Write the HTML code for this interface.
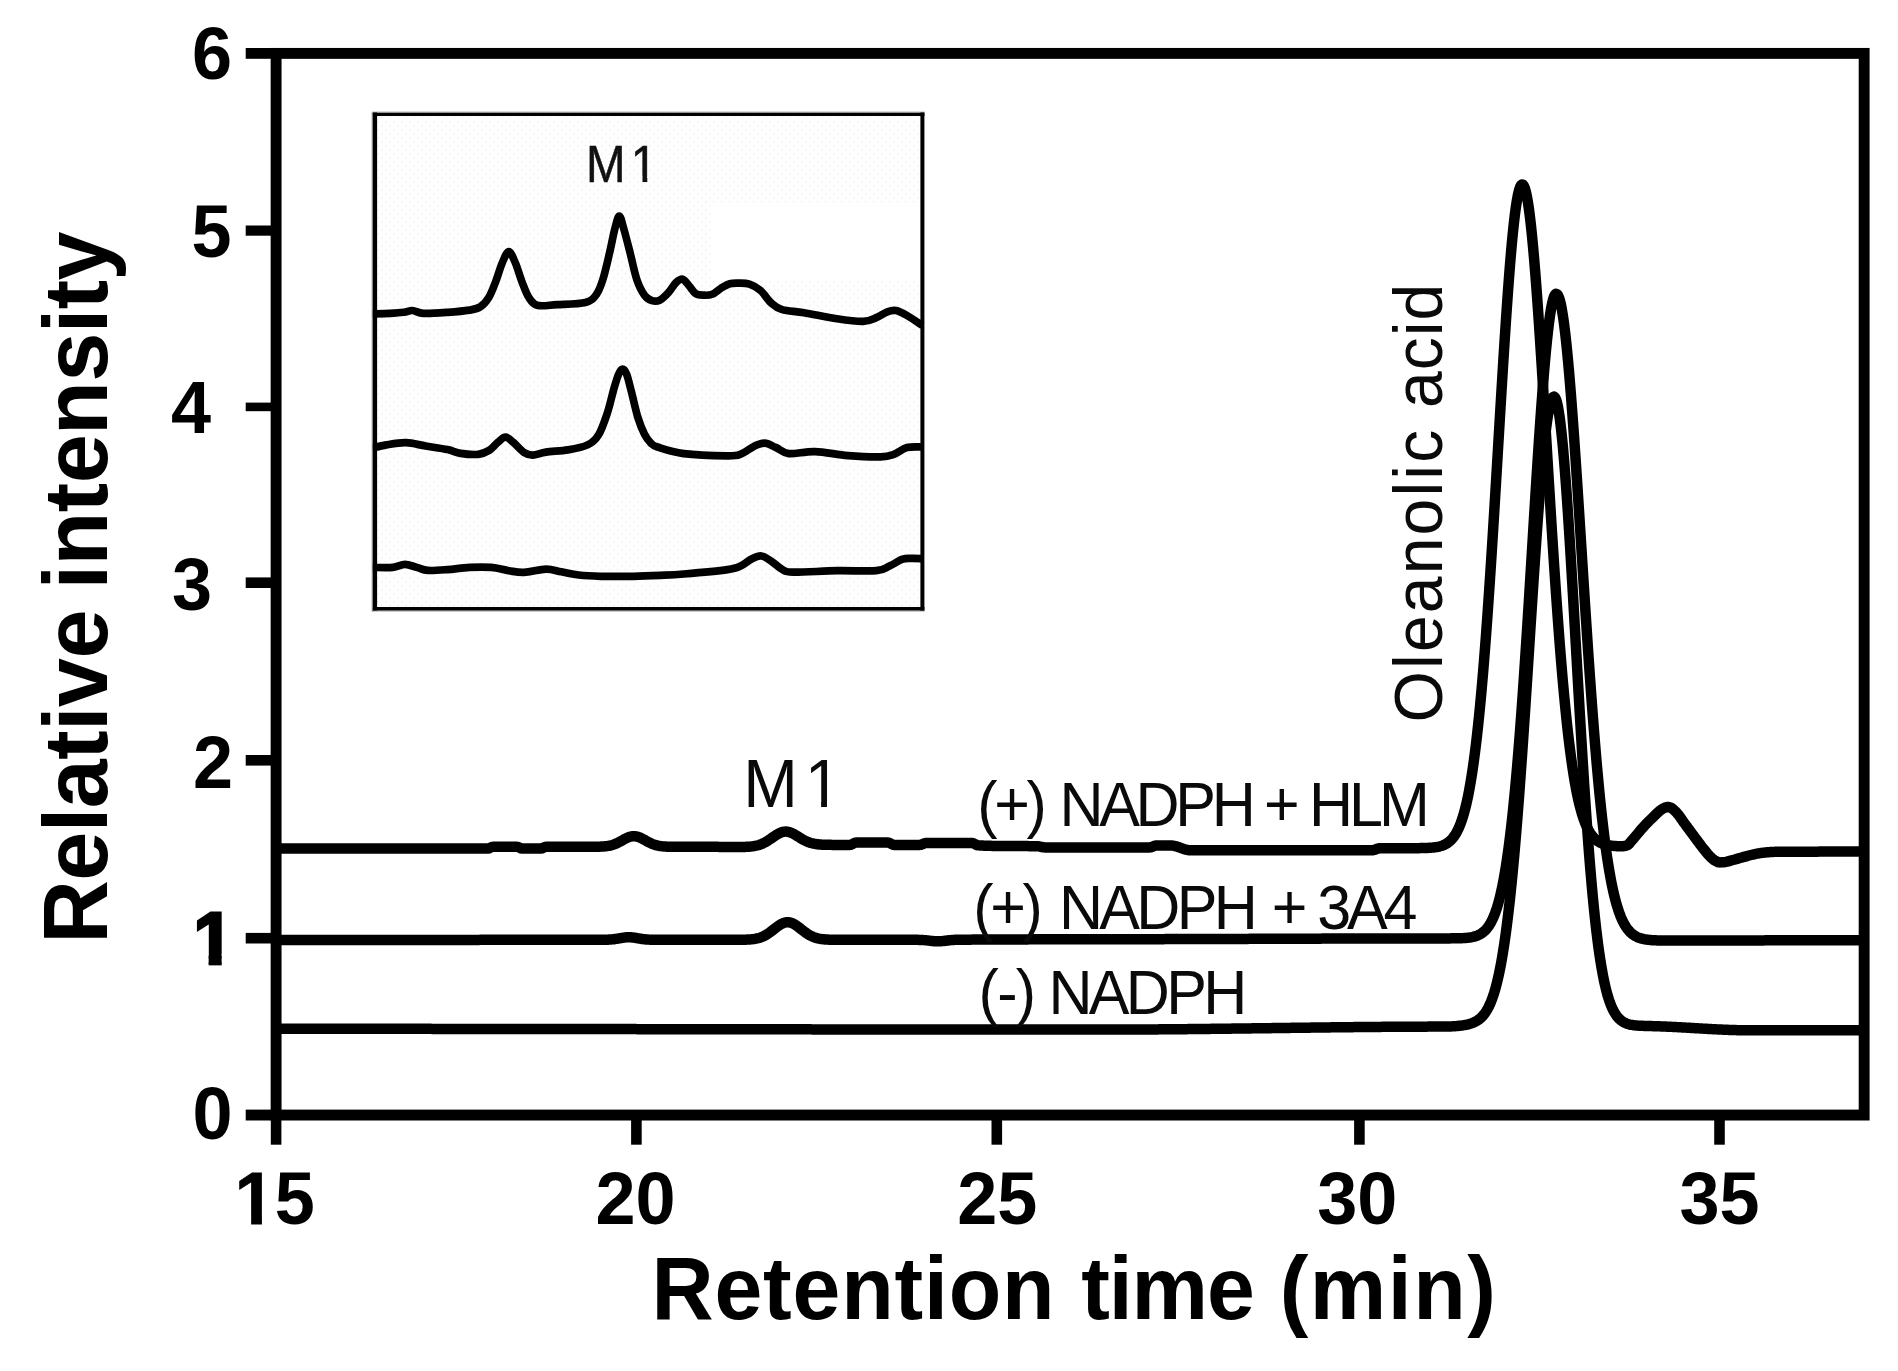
<!DOCTYPE html>
<html lang="en">
<head>
<meta charset="utf-8">
<title>Chromatogram: Relative intensity vs Retention time (min)</title>
<style>
html,body{margin:0;padding:0;background:#ffffff;}
body{width:1898px;height:1371px;overflow:hidden;font-family:"Liberation Sans",Arial,sans-serif;}
svg{display:block;}
</style>
</head>
<body>
<svg width="1898" height="1371" viewBox="0 0 1898 1371">
<defs>
<clipPath id="plotclip"><rect x="270" y="48" width="1600" height="1073"/></clipPath>
<clipPath id="insetclip"><rect x="372" y="112" width="552.5" height="499"/></clipPath>
<pattern id="dots" width="8" height="8" patternUnits="userSpaceOnUse"><rect width="8" height="8" fill="#fefefe"/><rect x="1" y="1" width="1.3" height="1.3" fill="#f8e6e6"/><rect x="5" y="5" width="1.3" height="1.3" fill="#e2f3f3"/></pattern>
</defs>
<rect width="1898" height="1371" fill="#ffffff"/>
<g id="inset">
<rect x="372" y="112" width="552.6" height="499.4" fill="url(#dots)"/>
<rect x="710" y="203" width="210.4" height="76" fill="#ffffff"/>
<g clip-path="url(#insetclip)" fill="none" stroke="#000" stroke-width="7.7" stroke-linejoin="round" stroke-linecap="butt">
<path d="M372.00 314.00 C375.00 313.90 384.70 313.68 390.00 313.40 C395.30 313.12 400.05 312.78 403.80 312.30 C407.55 311.82 409.22 310.33 412.50 310.50 C415.78 310.67 417.67 313.00 423.50 313.30 C429.33 313.60 439.85 312.83 447.50 312.30 C455.15 311.77 463.92 311.02 469.40 310.10 C474.88 309.18 477.12 309.00 480.40 306.80 C483.68 304.60 486.55 301.10 489.10 296.90 C491.65 292.70 493.52 287.25 495.70 281.60 C497.88 275.95 500.02 268.00 502.20 263.00 C504.38 258.00 506.60 251.60 508.80 251.60 C511.00 251.60 513.22 258.00 515.40 263.00 C517.58 268.00 519.72 275.95 521.90 281.60 C524.08 287.25 525.95 292.95 528.50 296.90 C531.05 300.85 532.47 304.02 537.20 305.30 C541.93 306.58 548.87 305.08 556.90 304.60 C564.93 304.12 578.83 304.05 585.40 302.40 C591.97 300.75 593.38 298.53 596.30 294.70 C599.22 290.87 600.70 286.32 602.90 279.40 C605.10 272.48 607.50 261.68 609.50 253.20 C611.50 244.72 613.27 234.67 614.90 228.50 C616.53 222.33 617.83 216.20 619.30 216.20 C620.77 216.20 621.88 222.33 623.70 228.50 C625.52 234.67 628.02 244.72 630.20 253.20 C632.38 261.68 634.42 272.40 636.80 279.40 C639.18 286.40 641.97 291.67 644.50 295.20 C647.03 298.73 649.47 299.77 652.00 300.60 C654.53 301.43 656.97 301.53 659.70 300.20 C662.43 298.87 665.68 295.53 668.40 292.60 C671.12 289.67 673.62 284.83 676.00 282.60 C678.38 280.37 680.50 278.63 682.70 279.20 C684.90 279.77 687.02 283.57 689.20 286.00 C691.38 288.43 693.33 292.27 695.80 293.80 C698.27 295.33 701.27 295.12 704.00 295.20 C706.73 295.28 709.37 295.47 712.20 294.30 C715.03 293.13 718.08 289.95 721.00 288.20 C723.92 286.45 726.70 284.63 729.70 283.80 C732.70 282.97 735.72 283.13 739.00 283.20 C742.28 283.27 745.83 283.00 749.40 284.20 C752.97 285.40 756.75 287.27 760.40 290.40 C764.05 293.53 767.67 299.80 771.30 303.00 C774.93 306.20 776.73 307.98 782.20 309.60 C787.67 311.22 794.97 311.17 804.10 312.70 C813.23 314.23 827.15 317.35 837.00 318.80 C846.85 320.25 856.65 321.58 863.20 321.40 C869.75 321.22 872.28 319.30 876.30 317.70 C880.32 316.10 884.02 313.00 887.30 311.80 C890.58 310.60 892.72 309.88 896.00 310.50 C899.28 311.12 902.58 312.98 907.00 315.50 C911.42 318.02 919.92 323.92 922.50 325.60"/>
<path d="M372.00 448.20 C374.38 447.65 380.63 445.82 386.30 444.90 C391.97 443.98 399.45 442.52 406.00 442.70 C412.55 442.88 418.68 444.85 425.60 446.00 C432.52 447.15 441.65 448.37 447.50 449.60 C453.35 450.83 455.58 452.62 460.70 453.40 C465.82 454.18 473.47 454.80 478.20 454.30 C482.93 453.80 485.82 452.42 489.10 450.40 C492.38 448.38 495.17 444.40 497.90 442.20 C500.63 440.00 502.95 437.20 505.50 437.20 C508.05 437.20 510.10 439.65 513.20 442.20 C516.30 444.75 520.82 450.33 524.10 452.50 C527.38 454.67 529.25 455.27 532.90 455.20 C536.55 455.13 540.17 452.98 546.00 452.10 C551.83 451.22 560.97 451.10 567.90 449.90 C574.83 448.70 582.50 447.38 587.60 444.90 C592.70 442.42 595.22 440.28 598.50 435.00 C601.78 429.72 604.75 420.85 607.30 413.20 C609.85 405.55 611.92 395.60 613.80 389.10 C615.68 382.60 617.13 377.52 618.60 374.20 C620.07 370.88 621.27 369.20 622.60 369.20 C623.93 369.20 625.15 370.52 626.60 374.20 C628.05 377.88 629.42 384.08 631.30 391.30 C633.18 398.52 635.70 410.35 637.90 417.50 C640.10 424.65 642.32 429.92 644.50 434.20 C646.68 438.48 648.83 441.07 651.00 443.20 C653.17 445.33 652.03 445.27 657.50 447.00 C662.97 448.73 672.13 452.13 683.80 453.60 C695.47 455.07 718.02 455.70 727.50 455.80 C736.98 455.90 736.32 455.77 740.70 454.20 C745.08 452.63 749.80 448.23 753.80 446.40 C757.80 444.57 761.05 443.03 764.70 443.20 C768.35 443.37 771.68 445.67 775.70 447.40 C779.72 449.13 782.25 452.90 788.80 453.60 C795.35 454.30 805.15 451.27 815.00 451.60 C824.85 451.93 836.95 454.72 847.90 455.60 C858.85 456.48 873.05 457.10 880.70 456.90 C888.35 456.70 889.42 455.95 893.80 454.40 C898.18 452.85 902.22 448.83 907.00 447.60 C911.78 446.37 919.92 447.10 922.50 447.00"/>
<path d="M372.00 567.40 C375.47 567.40 387.32 567.90 392.80 567.40 C398.28 566.90 400.88 564.40 404.90 564.40 C408.92 564.40 413.08 566.40 416.90 567.40 C420.72 568.40 422.70 570.03 427.80 570.40 C432.90 570.77 440.57 570.10 447.50 569.60 C454.43 569.10 462.10 567.77 469.40 567.40 C476.70 567.03 484.73 566.85 491.30 567.40 C497.87 567.95 503.33 569.87 508.80 570.70 C514.27 571.53 517.90 572.65 524.10 572.40 C530.30 572.15 539.80 569.30 546.00 569.20 C552.20 569.10 555.83 570.83 561.30 571.80 C566.77 572.77 572.23 574.25 578.80 575.00 C585.37 575.75 591.58 576.08 600.70 576.30 C609.82 576.52 623.62 576.45 633.50 576.30 C643.38 576.15 651.62 575.78 660.00 575.40 C668.38 575.02 672.55 574.97 683.80 574.00 C695.05 573.03 718.02 570.93 727.50 569.60 C736.98 568.27 736.68 567.77 740.70 566.00 C744.72 564.23 748.15 560.67 751.60 559.00 C755.05 557.33 758.12 555.63 761.40 556.00 C764.68 556.37 767.83 558.97 771.30 561.20 C774.77 563.43 778.55 567.57 782.20 569.40 C785.85 571.23 784.07 571.98 793.20 572.20 C802.33 572.42 823.15 570.95 837.00 570.70 C850.85 570.45 867.55 571.48 876.30 570.70 C885.05 569.92 885.12 567.92 889.50 566.00 C893.88 564.08 898.85 560.47 902.60 559.20 C906.35 557.93 908.68 558.48 912.00 558.40 C915.32 558.32 920.75 558.65 922.50 558.70"/>
</g>
<g stroke="#000" fill="none" stroke-linecap="butt">
<line x1="372" y1="611.0" x2="924.6" y2="611.0" stroke="#bdbdbd" stroke-width="1.4"/>
<line x1="372.3" y1="112" x2="372.3" y2="611.4" stroke="#8a8a8a" stroke-width="1.2"/>
<line x1="372" y1="112.2" x2="924.6" y2="112.2" stroke="#b5b5b5" stroke-width="1.2"/>
<line x1="375.0" y1="112.6" x2="375.0" y2="610.4" stroke-width="4.2"/>
<line x1="372.9" y1="114.4" x2="924.4" y2="114.4" stroke-width="3.4"/>
<line x1="922.4" y1="112.6" x2="922.4" y2="610.4" stroke-width="4.0"/>
<line x1="372.9" y1="608.7" x2="924.4" y2="608.7" stroke-width="3.4"/>
</g>
</g>
<g id="traces" clip-path="url(#plotclip)"><g transform="scale(1.0,1)" fill="none" stroke="#000" stroke-width="10.5" stroke-linejoin="round" stroke-linecap="butt">
<path d="M272.00 1028.80 L273.00 1028.80 L274.00 1028.80 L275.00 1028.80 L276.00 1028.80 L277.00 1028.80 L278.00 1028.80 L279.00 1028.80 L280.00 1028.80 L281.00 1028.80 L282.00 1028.80 L283.00 1028.80 L284.00 1028.80 L285.00 1028.80 L286.00 1028.80 L287.00 1028.80 L288.00 1028.80 L289.00 1028.80 L290.00 1028.80 L291.00 1028.80 L292.00 1028.80 L293.00 1028.80 L294.00 1028.80 L295.00 1028.80 L296.00 1028.80 L297.00 1028.80 L298.00 1028.80 L299.00 1028.80 L300.00 1028.80 L301.00 1028.80 L302.00 1028.80 L303.00 1028.80 L304.00 1028.80 L305.00 1028.80 L306.00 1028.80 L307.00 1028.80 L308.00 1028.80 L309.00 1028.80 L310.00 1028.80 L311.00 1028.80 L312.00 1028.80 L313.00 1028.80 L314.00 1028.80 L315.00 1028.81 L316.00 1028.81 L317.00 1028.81 L318.00 1028.81 L319.00 1028.81 L320.00 1028.81 L321.00 1028.81 L322.00 1028.81 L323.00 1028.81 L324.00 1028.81 L325.00 1028.81 L326.00 1028.81 L327.00 1028.81 L328.00 1028.81 L329.00 1028.81 L330.00 1028.81 L331.00 1028.81 L332.00 1028.81 L333.00 1028.81 L334.00 1028.81 L335.00 1028.81 L336.00 1028.81 L337.00 1028.81 L338.00 1028.81 L339.00 1028.81 L340.00 1028.81 L341.00 1028.81 L342.00 1028.81 L343.00 1028.82 L344.00 1028.82 L345.00 1028.82 L346.00 1028.82 L347.00 1028.82 L348.00 1028.82 L349.00 1028.82 L350.00 1028.82 L351.00 1028.82 L352.00 1028.82 L353.00 1028.82 L354.00 1028.82 L355.00 1028.82 L356.00 1028.82 L357.00 1028.82 L358.00 1028.82 L359.00 1028.82 L360.00 1028.82 L361.00 1028.82 L362.00 1028.82 L363.00 1028.82 L364.00 1028.83 L365.00 1028.83 L366.00 1028.83 L367.00 1028.83 L368.00 1028.83 L369.00 1028.83 L370.00 1028.83 L371.00 1028.83 L372.00 1028.83 L373.00 1028.83 L374.00 1028.83 L375.00 1028.83 L376.00 1028.83 L377.00 1028.83 L378.00 1028.83 L379.00 1028.83 L380.00 1028.84 L381.00 1028.84 L382.00 1028.84 L383.00 1028.84 L384.00 1028.84 L385.00 1028.84 L386.00 1028.84 L387.00 1028.84 L388.00 1028.84 L389.00 1028.84 L390.00 1028.84 L391.00 1028.84 L392.00 1028.84 L393.00 1028.84 L394.00 1028.84 L395.00 1028.85 L396.00 1028.85 L397.00 1028.85 L398.00 1028.85 L399.00 1028.85 L400.00 1028.85 L401.00 1028.85 L402.00 1028.85 L403.00 1028.85 L404.00 1028.85 L405.00 1028.85 L406.00 1028.85 L407.00 1028.85 L408.00 1028.86 L409.00 1028.86 L410.00 1028.86 L411.00 1028.86 L412.00 1028.86 L413.00 1028.86 L414.00 1028.86 L415.00 1028.86 L416.00 1028.86 L417.00 1028.86 L418.00 1028.86 L419.00 1028.86 L420.00 1028.86 L421.00 1028.87 L422.00 1028.87 L423.00 1028.87 L424.00 1028.87 L425.00 1028.87 L426.00 1028.87 L427.00 1028.87 L428.00 1028.87 L429.00 1028.87 L430.00 1028.87 L431.00 1028.87 L432.00 1028.88 L433.00 1028.88 L434.00 1028.88 L435.00 1028.88 L436.00 1028.88 L437.00 1028.88 L438.00 1028.88 L439.00 1028.88 L440.00 1028.88 L441.00 1028.88 L442.00 1028.88 L443.00 1028.89 L444.00 1028.89 L445.00 1028.89 L446.00 1028.89 L447.00 1028.89 L448.00 1028.89 L449.00 1028.89 L450.00 1028.89 L451.00 1028.89 L452.00 1028.89 L453.00 1028.89 L454.00 1028.90 L455.00 1028.90 L456.00 1028.90 L457.00 1028.90 L458.00 1028.90 L459.00 1028.90 L460.00 1028.90 L461.00 1028.90 L462.00 1028.90 L463.00 1028.90 L464.00 1028.91 L465.00 1028.91 L466.00 1028.91 L467.00 1028.91 L468.00 1028.91 L469.00 1028.91 L470.00 1028.91 L471.00 1028.91 L472.00 1028.91 L473.00 1028.92 L474.00 1028.92 L475.00 1028.92 L476.00 1028.92 L477.00 1028.92 L478.00 1028.92 L479.00 1028.92 L480.00 1028.92 L481.00 1028.92 L482.00 1028.92 L483.00 1028.93 L484.00 1028.93 L485.00 1028.93 L486.00 1028.93 L487.00 1028.93 L488.00 1028.93 L489.00 1028.93 L490.00 1028.93 L491.00 1028.93 L492.00 1028.94 L493.00 1028.94 L494.00 1028.94 L495.00 1028.94 L496.00 1028.94 L497.00 1028.94 L498.00 1028.94 L499.00 1028.94 L500.00 1028.95 L501.00 1028.95 L502.00 1028.95 L503.00 1028.95 L504.00 1028.95 L505.00 1028.95 L506.00 1028.95 L507.00 1028.95 L508.00 1028.95 L509.00 1028.96 L510.00 1028.96 L511.00 1028.96 L512.00 1028.96 L513.00 1028.96 L514.00 1028.96 L515.00 1028.96 L516.00 1028.96 L517.00 1028.97 L518.00 1028.97 L519.00 1028.97 L520.00 1028.97 L521.00 1028.97 L522.00 1028.97 L523.00 1028.97 L524.00 1028.97 L525.00 1028.98 L526.00 1028.98 L527.00 1028.98 L528.00 1028.98 L529.00 1028.98 L530.00 1028.98 L531.00 1028.98 L532.00 1028.98 L533.00 1028.98 L534.00 1028.99 L535.00 1028.99 L536.00 1028.99 L537.00 1028.99 L538.00 1028.99 L539.00 1028.99 L540.00 1028.99 L541.00 1029.00 L542.00 1029.00 L543.00 1029.00 L544.00 1029.00 L545.00 1029.00 L546.00 1029.00 L547.00 1029.00 L548.00 1029.00 L549.00 1029.01 L550.00 1029.01 L551.00 1029.01 L552.00 1029.01 L553.00 1029.01 L554.00 1029.01 L555.00 1029.01 L556.00 1029.01 L557.00 1029.02 L558.00 1029.02 L559.00 1029.02 L560.00 1029.02 L561.00 1029.02 L562.00 1029.02 L563.00 1029.02 L564.00 1029.02 L565.00 1029.03 L566.00 1029.03 L567.00 1029.03 L568.00 1029.03 L569.00 1029.03 L570.00 1029.03 L571.00 1029.03 L572.00 1029.04 L573.00 1029.04 L574.00 1029.04 L575.00 1029.04 L576.00 1029.04 L577.00 1029.04 L578.00 1029.04 L579.00 1029.04 L580.00 1029.05 L581.00 1029.05 L582.00 1029.05 L583.00 1029.05 L584.00 1029.05 L585.00 1029.05 L586.00 1029.05 L587.00 1029.06 L588.00 1029.06 L589.00 1029.06 L590.00 1029.06 L591.00 1029.06 L592.00 1029.06 L593.00 1029.06 L594.00 1029.07 L595.00 1029.07 L596.00 1029.07 L597.00 1029.07 L598.00 1029.07 L599.00 1029.07 L600.00 1029.07 L601.00 1029.08 L602.00 1029.08 L603.00 1029.08 L604.00 1029.08 L605.00 1029.08 L606.00 1029.08 L607.00 1029.08 L608.00 1029.08 L609.00 1029.09 L610.00 1029.09 L611.00 1029.09 L612.00 1029.09 L613.00 1029.09 L614.00 1029.09 L615.00 1029.09 L616.00 1029.10 L617.00 1029.10 L618.00 1029.10 L619.00 1029.10 L620.00 1029.10 L621.00 1029.10 L622.00 1029.10 L623.00 1029.11 L624.00 1029.11 L625.00 1029.11 L626.00 1029.11 L627.00 1029.11 L628.00 1029.11 L629.00 1029.11 L630.00 1029.12 L631.00 1029.12 L632.00 1029.12 L633.00 1029.12 L634.00 1029.12 L635.00 1029.12 L636.00 1029.12 L637.00 1029.13 L638.00 1029.13 L639.00 1029.13 L640.00 1029.13 L641.00 1029.13 L642.00 1029.13 L643.00 1029.13 L644.00 1029.14 L645.00 1029.14 L646.00 1029.14 L647.00 1029.14 L648.00 1029.14 L649.00 1029.14 L650.00 1029.14 L651.00 1029.15 L652.00 1029.15 L653.00 1029.15 L654.00 1029.15 L655.00 1029.15 L656.00 1029.15 L657.00 1029.15 L658.00 1029.16 L659.00 1029.16 L660.00 1029.16 L661.00 1029.16 L662.00 1029.16 L663.00 1029.16 L664.00 1029.17 L665.00 1029.17 L666.00 1029.17 L667.00 1029.17 L668.00 1029.17 L669.00 1029.17 L670.00 1029.17 L671.00 1029.18 L672.00 1029.18 L673.00 1029.18 L674.00 1029.18 L675.00 1029.18 L676.00 1029.18 L677.00 1029.18 L678.00 1029.19 L679.00 1029.19 L680.00 1029.19 L681.00 1029.19 L682.00 1029.19 L683.00 1029.19 L684.00 1029.19 L685.00 1029.20 L686.00 1029.20 L687.00 1029.20 L688.00 1029.20 L689.00 1029.20 L690.00 1029.20 L691.00 1029.20 L692.00 1029.21 L693.00 1029.21 L694.00 1029.21 L695.00 1029.21 L696.00 1029.21 L697.00 1029.21 L698.00 1029.21 L699.00 1029.22 L700.00 1029.22 L701.00 1029.22 L702.00 1029.22 L703.00 1029.22 L704.00 1029.22 L705.00 1029.22 L706.00 1029.23 L707.00 1029.23 L708.00 1029.23 L709.00 1029.23 L710.00 1029.23 L711.00 1029.23 L712.00 1029.23 L713.00 1029.24 L714.00 1029.24 L715.00 1029.24 L716.00 1029.24 L717.00 1029.24 L718.00 1029.24 L719.00 1029.25 L720.00 1029.25 L721.00 1029.25 L722.00 1029.25 L723.00 1029.25 L724.00 1029.25 L725.00 1029.25 L726.00 1029.26 L727.00 1029.26 L728.00 1029.26 L729.00 1029.26 L730.00 1029.26 L731.00 1029.26 L732.00 1029.26 L733.00 1029.27 L734.00 1029.27 L735.00 1029.27 L736.00 1029.27 L737.00 1029.27 L738.00 1029.27 L739.00 1029.27 L740.00 1029.28 L741.00 1029.28 L742.00 1029.28 L743.00 1029.28 L744.00 1029.28 L745.00 1029.28 L746.00 1029.28 L747.00 1029.29 L748.00 1029.29 L749.00 1029.29 L750.00 1029.29 L751.00 1029.29 L752.00 1029.29 L753.00 1029.29 L754.00 1029.30 L755.00 1029.30 L756.00 1029.30 L757.00 1029.30 L758.00 1029.30 L759.00 1029.30 L760.00 1029.30 L761.00 1029.31 L762.00 1029.31 L763.00 1029.31 L764.00 1029.31 L765.00 1029.31 L766.00 1029.31 L767.00 1029.31 L768.00 1029.32 L769.00 1029.32 L770.00 1029.32 L771.00 1029.32 L772.00 1029.32 L773.00 1029.32 L774.00 1029.32 L775.00 1029.32 L776.00 1029.33 L777.00 1029.33 L778.00 1029.33 L779.00 1029.33 L780.00 1029.33 L781.00 1029.33 L782.00 1029.33 L783.00 1029.34 L784.00 1029.34 L785.00 1029.34 L786.00 1029.34 L787.00 1029.34 L788.00 1029.34 L789.00 1029.34 L790.00 1029.35 L791.00 1029.35 L792.00 1029.35 L793.00 1029.35 L794.00 1029.35 L795.00 1029.35 L796.00 1029.35 L797.00 1029.36 L798.00 1029.36 L799.00 1029.36 L800.00 1029.36 L801.00 1029.36 L802.00 1029.36 L803.00 1029.36 L804.00 1029.36 L805.00 1029.37 L806.00 1029.37 L807.00 1029.37 L808.00 1029.37 L809.00 1029.37 L810.00 1029.37 L811.00 1029.37 L812.00 1029.38 L813.00 1029.38 L814.00 1029.38 L815.00 1029.38 L816.00 1029.38 L817.00 1029.38 L818.00 1029.38 L819.00 1029.38 L820.00 1029.39 L821.00 1029.39 L822.00 1029.39 L823.00 1029.39 L824.00 1029.39 L825.00 1029.39 L826.00 1029.39 L827.00 1029.39 L828.00 1029.40 L829.00 1029.40 L830.00 1029.40 L831.00 1029.40 L832.00 1029.40 L833.00 1029.40 L834.00 1029.40 L835.00 1029.40 L836.00 1029.41 L837.00 1029.41 L838.00 1029.41 L839.00 1029.41 L840.00 1029.41 L841.00 1029.41 L842.00 1029.41 L843.00 1029.42 L844.00 1029.42 L845.00 1029.42 L846.00 1029.42 L847.00 1029.42 L848.00 1029.42 L849.00 1029.42 L850.00 1029.42 L851.00 1029.42 L852.00 1029.43 L853.00 1029.43 L854.00 1029.43 L855.00 1029.43 L856.00 1029.43 L857.00 1029.43 L858.00 1029.43 L859.00 1029.43 L860.00 1029.44 L861.00 1029.44 L862.00 1029.44 L863.00 1029.44 L864.00 1029.44 L865.00 1029.44 L866.00 1029.44 L867.00 1029.44 L868.00 1029.45 L869.00 1029.45 L870.00 1029.45 L871.00 1029.45 L872.00 1029.45 L873.00 1029.45 L874.00 1029.45 L875.00 1029.45 L876.00 1029.45 L877.00 1029.46 L878.00 1029.46 L879.00 1029.46 L880.00 1029.46 L881.00 1029.46 L882.00 1029.46 L883.00 1029.46 L884.00 1029.46 L885.00 1029.47 L886.00 1029.47 L887.00 1029.47 L888.00 1029.47 L889.00 1029.47 L890.00 1029.47 L891.00 1029.47 L892.00 1029.47 L893.00 1029.47 L894.00 1029.47 L895.00 1029.48 L896.00 1029.48 L897.00 1029.48 L898.00 1029.48 L899.00 1029.48 L900.00 1029.48 L901.00 1029.48 L902.00 1029.48 L903.00 1029.48 L904.00 1029.49 L905.00 1029.49 L906.00 1029.49 L907.00 1029.49 L908.00 1029.49 L909.00 1029.49 L910.00 1029.49 L911.00 1029.49 L912.00 1029.49 L913.00 1029.50 L914.00 1029.50 L915.00 1029.50 L916.00 1029.50 L917.00 1029.50 L918.00 1029.50 L919.00 1029.50 L920.00 1029.50 L921.00 1029.50 L922.00 1029.50 L923.00 1029.51 L924.00 1029.51 L925.00 1029.51 L926.00 1029.51 L927.00 1029.51 L928.00 1029.51 L929.00 1029.51 L930.00 1029.51 L931.00 1029.51 L932.00 1029.51 L933.00 1029.51 L934.00 1029.52 L935.00 1029.52 L936.00 1029.52 L937.00 1029.52 L938.00 1029.52 L939.00 1029.52 L940.00 1029.52 L941.00 1029.52 L942.00 1029.52 L943.00 1029.52 L944.00 1029.52 L945.00 1029.53 L946.00 1029.53 L947.00 1029.53 L948.00 1029.53 L949.00 1029.53 L950.00 1029.53 L951.00 1029.53 L952.00 1029.53 L953.00 1029.53 L954.00 1029.53 L955.00 1029.53 L956.00 1029.54 L957.00 1029.54 L958.00 1029.54 L959.00 1029.54 L960.00 1029.54 L961.00 1029.54 L962.00 1029.54 L963.00 1029.54 L964.00 1029.54 L965.00 1029.54 L966.00 1029.54 L967.00 1029.54 L968.00 1029.54 L969.00 1029.55 L970.00 1029.55 L971.00 1029.55 L972.00 1029.55 L973.00 1029.55 L974.00 1029.55 L975.00 1029.55 L976.00 1029.55 L977.00 1029.55 L978.00 1029.55 L979.00 1029.55 L980.00 1029.55 L981.00 1029.55 L982.00 1029.56 L983.00 1029.56 L984.00 1029.56 L985.00 1029.56 L986.00 1029.56 L987.00 1029.56 L988.00 1029.56 L989.00 1029.56 L990.00 1029.56 L991.00 1029.56 L992.00 1029.56 L993.00 1029.56 L994.00 1029.56 L995.00 1029.56 L996.00 1029.56 L997.00 1029.57 L998.00 1029.57 L999.00 1029.57 L1000.00 1029.57 L1001.00 1029.57 L1002.00 1029.57 L1003.00 1029.57 L1004.00 1029.57 L1005.00 1029.57 L1006.00 1029.57 L1007.00 1029.57 L1008.00 1029.57 L1009.00 1029.57 L1010.00 1029.57 L1011.00 1029.57 L1012.00 1029.57 L1013.00 1029.58 L1014.00 1029.58 L1015.00 1029.58 L1016.00 1029.58 L1017.00 1029.58 L1018.00 1029.58 L1019.00 1029.58 L1020.00 1029.58 L1021.00 1029.58 L1022.00 1029.58 L1023.00 1029.58 L1024.00 1029.58 L1025.00 1029.58 L1026.00 1029.58 L1027.00 1029.58 L1028.00 1029.58 L1029.00 1029.58 L1030.00 1029.58 L1031.00 1029.58 L1032.00 1029.58 L1033.00 1029.58 L1034.00 1029.59 L1035.00 1029.59 L1036.00 1029.59 L1037.00 1029.59 L1038.00 1029.59 L1039.00 1029.59 L1040.00 1029.59 L1041.00 1029.59 L1042.00 1029.59 L1043.00 1029.59 L1044.00 1029.59 L1045.00 1029.59 L1046.00 1029.59 L1047.00 1029.59 L1048.00 1029.59 L1049.00 1029.59 L1050.00 1029.59 L1051.00 1029.59 L1052.00 1029.59 L1053.00 1029.59 L1054.00 1029.59 L1055.00 1029.59 L1056.00 1029.59 L1057.00 1029.59 L1058.00 1029.59 L1059.00 1029.59 L1060.00 1029.59 L1061.00 1029.59 L1062.00 1029.60 L1063.00 1029.60 L1064.00 1029.60 L1065.00 1029.60 L1066.00 1029.60 L1067.00 1029.60 L1068.00 1029.60 L1069.00 1029.60 L1070.00 1029.60 L1071.00 1029.60 L1072.00 1029.60 L1073.00 1029.60 L1074.00 1029.60 L1075.00 1029.60 L1076.00 1029.60 L1077.00 1029.60 L1078.00 1029.60 L1079.00 1029.60 L1080.00 1029.60 L1081.00 1029.60 L1082.00 1029.60 L1083.00 1029.60 L1084.00 1029.60 L1085.00 1029.60 L1086.00 1029.60 L1087.00 1029.60 L1088.00 1029.60 L1089.00 1029.60 L1090.00 1029.60 L1091.00 1029.60 L1092.00 1029.60 L1093.00 1029.60 L1094.00 1029.60 L1095.00 1029.60 L1096.00 1029.60 L1097.00 1029.60 L1098.00 1029.60 L1099.00 1029.60 L1100.00 1029.60 L1101.00 1029.60 L1102.00 1029.60 L1103.00 1029.60 L1104.00 1029.60 L1105.00 1029.60 L1106.00 1029.60 L1107.00 1029.60 L1108.00 1029.60 L1109.00 1029.59 L1110.00 1029.59 L1111.00 1029.59 L1112.00 1029.59 L1113.00 1029.59 L1114.00 1029.59 L1115.00 1029.58 L1116.00 1029.58 L1117.00 1029.58 L1118.00 1029.58 L1119.00 1029.57 L1120.00 1029.57 L1121.00 1029.57 L1122.00 1029.57 L1123.00 1029.56 L1124.00 1029.56 L1125.00 1029.56 L1126.00 1029.55 L1127.00 1029.55 L1128.00 1029.54 L1129.00 1029.54 L1130.00 1029.54 L1131.00 1029.53 L1132.00 1029.53 L1133.00 1029.52 L1134.00 1029.52 L1135.00 1029.51 L1136.00 1029.51 L1137.00 1029.50 L1138.00 1029.50 L1139.00 1029.49 L1140.00 1029.49 L1141.00 1029.48 L1142.00 1029.48 L1143.00 1029.47 L1144.00 1029.47 L1145.00 1029.46 L1146.00 1029.46 L1147.00 1029.45 L1148.00 1029.44 L1149.00 1029.44 L1150.00 1029.43 L1151.00 1029.42 L1152.00 1029.42 L1153.00 1029.41 L1154.00 1029.40 L1155.00 1029.40 L1156.00 1029.39 L1157.00 1029.38 L1158.00 1029.38 L1159.00 1029.37 L1160.00 1029.36 L1161.00 1029.35 L1162.00 1029.35 L1163.00 1029.34 L1164.00 1029.33 L1165.00 1029.32 L1166.00 1029.31 L1167.00 1029.31 L1168.00 1029.30 L1169.00 1029.29 L1170.00 1029.28 L1171.00 1029.27 L1172.00 1029.26 L1173.00 1029.26 L1174.00 1029.25 L1175.00 1029.24 L1176.00 1029.23 L1177.00 1029.22 L1178.00 1029.21 L1179.00 1029.20 L1180.00 1029.19 L1181.00 1029.18 L1182.00 1029.17 L1183.00 1029.16 L1184.00 1029.16 L1185.00 1029.15 L1186.00 1029.14 L1187.00 1029.13 L1188.00 1029.12 L1189.00 1029.11 L1190.00 1029.10 L1191.00 1029.09 L1192.00 1029.08 L1193.00 1029.07 L1194.00 1029.06 L1195.00 1029.05 L1196.00 1029.04 L1197.00 1029.02 L1198.00 1029.01 L1199.00 1029.00 L1200.00 1028.99 L1201.00 1028.98 L1202.00 1028.97 L1203.00 1028.96 L1204.00 1028.95 L1205.00 1028.94 L1206.00 1028.93 L1207.00 1028.92 L1208.00 1028.91 L1209.00 1028.89 L1210.00 1028.88 L1211.00 1028.87 L1212.00 1028.86 L1213.00 1028.85 L1214.00 1028.84 L1215.00 1028.83 L1216.00 1028.81 L1217.00 1028.80 L1218.00 1028.79 L1219.00 1028.78 L1220.00 1028.77 L1221.00 1028.76 L1222.00 1028.74 L1223.00 1028.73 L1224.00 1028.72 L1225.00 1028.71 L1226.00 1028.70 L1227.00 1028.68 L1228.00 1028.67 L1229.00 1028.66 L1230.00 1028.65 L1231.00 1028.64 L1232.00 1028.62 L1233.00 1028.61 L1234.00 1028.60 L1235.00 1028.59 L1236.00 1028.57 L1237.00 1028.56 L1238.00 1028.55 L1239.00 1028.54 L1240.00 1028.52 L1241.00 1028.51 L1242.00 1028.50 L1243.00 1028.49 L1244.00 1028.47 L1245.00 1028.46 L1246.00 1028.45 L1247.00 1028.44 L1248.00 1028.42 L1249.00 1028.41 L1250.00 1028.40 L1251.00 1028.38 L1252.00 1028.37 L1253.00 1028.36 L1254.00 1028.35 L1255.00 1028.33 L1256.00 1028.32 L1257.00 1028.31 L1258.00 1028.29 L1259.00 1028.28 L1260.00 1028.27 L1261.00 1028.26 L1262.00 1028.24 L1263.00 1028.23 L1264.00 1028.22 L1265.00 1028.20 L1266.00 1028.19 L1267.00 1028.18 L1268.00 1028.17 L1269.00 1028.15 L1270.00 1028.14 L1271.00 1028.13 L1272.00 1028.11 L1273.00 1028.10 L1274.00 1028.09 L1275.00 1028.07 L1276.00 1028.06 L1277.00 1028.05 L1278.00 1028.03 L1279.00 1028.02 L1280.00 1028.01 L1281.00 1028.00 L1282.00 1027.98 L1283.00 1027.97 L1284.00 1027.96 L1285.00 1027.94 L1286.00 1027.93 L1287.00 1027.92 L1288.00 1027.91 L1289.00 1027.89 L1290.00 1027.88 L1291.00 1027.87 L1292.00 1027.85 L1293.00 1027.84 L1294.00 1027.83 L1295.00 1027.82 L1296.00 1027.80 L1297.00 1027.79 L1298.00 1027.78 L1299.00 1027.76 L1300.00 1027.75 L1301.00 1027.74 L1302.00 1027.73 L1303.00 1027.71 L1304.00 1027.70 L1305.00 1027.69 L1306.00 1027.68 L1307.00 1027.66 L1308.00 1027.65 L1309.00 1027.64 L1310.00 1027.63 L1311.00 1027.61 L1312.00 1027.60 L1313.00 1027.59 L1314.00 1027.58 L1315.00 1027.56 L1316.00 1027.55 L1317.00 1027.54 L1318.00 1027.53 L1319.00 1027.52 L1320.00 1027.50 L1321.00 1027.49 L1322.00 1027.48 L1323.00 1027.47 L1324.00 1027.46 L1325.00 1027.44 L1326.00 1027.43 L1327.00 1027.42 L1328.00 1027.41 L1329.00 1027.40 L1330.00 1027.39 L1331.00 1027.37 L1332.00 1027.36 L1333.00 1027.35 L1334.00 1027.34 L1335.00 1027.33 L1336.00 1027.32 L1337.00 1027.31 L1338.00 1027.29 L1339.00 1027.28 L1340.00 1027.27 L1341.00 1027.26 L1342.00 1027.25 L1343.00 1027.24 L1344.00 1027.23 L1345.00 1027.22 L1346.00 1027.21 L1347.00 1027.20 L1348.00 1027.19 L1349.00 1027.18 L1350.00 1027.16 L1351.00 1027.15 L1352.00 1027.14 L1353.00 1027.13 L1354.00 1027.12 L1355.00 1027.11 L1356.00 1027.10 L1357.00 1027.09 L1358.00 1027.08 L1359.00 1027.07 L1360.00 1027.06 L1361.00 1027.05 L1362.00 1027.04 L1363.00 1027.04 L1364.00 1027.03 L1365.00 1027.02 L1366.00 1027.01 L1367.00 1027.00 L1368.00 1026.99 L1369.00 1026.98 L1370.00 1026.97 L1371.00 1026.96 L1372.00 1026.95 L1373.00 1026.94 L1374.00 1026.94 L1375.00 1026.93 L1376.00 1026.92 L1377.00 1026.91 L1378.00 1026.90 L1379.00 1026.89 L1380.00 1026.89 L1381.00 1026.88 L1382.00 1026.87 L1383.00 1026.86 L1384.00 1026.85 L1385.00 1026.85 L1386.00 1026.84 L1387.00 1026.83 L1388.00 1026.82 L1389.00 1026.82 L1390.00 1026.81 L1391.00 1026.80 L1392.00 1026.80 L1393.00 1026.79 L1394.00 1026.78 L1395.00 1026.78 L1396.00 1026.77 L1397.00 1026.76 L1398.00 1026.76 L1399.00 1026.75 L1400.00 1026.74 L1401.00 1026.74 L1402.00 1026.73 L1403.00 1026.73 L1404.00 1026.72 L1405.00 1026.72 L1406.00 1026.71 L1407.00 1026.71 L1408.00 1026.70 L1409.00 1026.70 L1410.00 1026.69 L1411.00 1026.69 L1412.00 1026.68 L1413.00 1026.68 L1414.00 1026.67 L1415.00 1026.67 L1416.00 1026.66 L1417.00 1026.66 L1418.00 1026.66 L1419.00 1026.65 L1420.00 1026.65 L1421.00 1026.64 L1422.00 1026.64 L1423.00 1026.64 L1424.00 1026.63 L1425.00 1026.63 L1426.00 1026.63 L1427.00 1026.63 L1428.00 1026.62 L1429.00 1026.62 L1430.00 1026.62 L1431.00 1026.61 L1432.00 1026.61 L1433.00 1026.61 L1434.00 1026.61 L1435.00 1026.60 L1436.00 1026.60 L1437.00 1026.60 L1438.00 1026.60 L1439.00 1026.59 L1440.00 1026.59 L1441.00 1026.59 L1442.00 1026.58 L1443.00 1026.58 L1444.00 1026.57 L1445.00 1026.57 L1446.00 1026.56 L1447.00 1026.55 L1448.00 1026.53 L1449.00 1026.50 L1450.00 1026.47 L1451.00 1026.43 L1452.00 1026.38 L1453.00 1026.33 L1454.00 1026.27 L1455.00 1026.20 L1456.00 1026.12 L1457.00 1026.04 L1458.00 1025.95 L1459.00 1025.84 L1460.00 1025.73 L1461.00 1025.61 L1462.00 1025.48 L1463.00 1025.33 L1464.00 1025.17 L1465.00 1024.99 L1466.00 1024.80 L1467.00 1024.58 L1468.00 1024.35 L1469.00 1024.09 L1470.00 1023.80 L1471.00 1023.49 L1472.00 1023.14 L1473.00 1022.75 L1474.00 1022.32 L1475.00 1021.85 L1476.00 1021.32 L1477.00 1020.74 L1478.00 1020.09 L1479.00 1019.37 L1480.00 1018.58 L1481.00 1017.70 L1482.00 1016.72 L1483.00 1015.63 L1484.00 1014.43 L1485.00 1013.09 L1486.00 1011.62 L1487.00 1009.99 L1488.00 1008.20 L1489.00 1006.24 L1490.00 1004.08 L1491.00 1001.72 L1492.00 999.15 L1493.00 996.34 L1494.00 993.29 L1495.00 989.97 L1496.00 986.37 L1497.00 982.48 L1498.00 978.28 L1499.00 973.76 L1500.00 968.89 L1501.00 963.67 L1502.00 958.07 L1503.00 952.09 L1504.00 945.71 L1505.00 938.92 L1506.00 931.70 L1507.00 924.05 L1508.00 915.96 L1509.00 907.41 L1510.00 898.41 L1511.00 888.94 L1512.00 879.02 L1513.00 868.62 L1514.00 857.77 L1515.00 846.46 L1516.00 834.71 L1517.00 822.52 L1518.00 809.90 L1519.00 796.88 L1520.00 783.48 L1521.00 769.70 L1522.00 755.60 L1523.00 741.18 L1524.00 726.49 L1525.00 711.55 L1526.00 696.42 L1527.00 681.12 L1528.00 665.71 L1529.00 650.23 L1530.00 634.73 L1531.00 619.26 L1532.00 603.87 L1533.00 588.63 L1534.00 573.58 L1535.00 558.78 L1536.00 544.30 L1537.00 530.18 L1538.00 516.49 L1539.00 503.29 L1540.00 490.63 L1541.00 478.57 L1542.00 467.16 L1543.00 456.45 L1544.00 446.49 L1545.00 437.33 L1546.00 429.02 L1547.00 421.58 L1548.00 415.07 L1549.00 409.50 L1550.00 404.90 L1551.00 401.31 L1552.00 398.73 L1553.00 397.18 L1554.00 396.67 L1555.00 397.33 L1556.00 399.32 L1557.00 402.61 L1558.00 407.19 L1559.00 413.02 L1560.00 420.08 L1561.00 428.31 L1562.00 437.67 L1563.00 448.10 L1564.00 459.54 L1565.00 471.92 L1566.00 485.16 L1567.00 499.20 L1568.00 513.95 L1569.00 529.34 L1570.00 545.27 L1571.00 561.67 L1572.00 578.46 L1573.00 595.54 L1574.00 612.84 L1575.00 630.28 L1576.00 647.78 L1577.00 665.27 L1578.00 682.67 L1579.00 699.91 L1580.00 716.94 L1581.00 733.70 L1582.00 750.13 L1583.00 766.18 L1584.00 781.81 L1585.00 796.99 L1586.00 811.67 L1587.00 825.83 L1588.00 839.45 L1589.00 852.51 L1590.00 864.99 L1591.00 876.89 L1592.00 888.19 L1593.00 898.91 L1594.00 909.04 L1595.00 918.59 L1596.00 927.57 L1597.00 935.98 L1598.00 943.85 L1599.00 951.19 L1600.00 958.02 L1601.00 964.35 L1602.00 970.21 L1603.00 975.62 L1604.00 980.60 L1605.00 985.17 L1606.00 989.36 L1607.00 993.19 L1608.00 996.68 L1609.00 999.85 L1610.00 1002.73 L1611.00 1005.34 L1612.00 1007.69 L1613.00 1009.81 L1614.00 1011.71 L1615.00 1013.42 L1616.00 1014.94 L1617.00 1016.30 L1618.00 1017.51 L1619.00 1018.59 L1620.00 1019.54 L1621.00 1020.39 L1622.00 1021.13 L1623.00 1021.78 L1624.00 1022.35 L1625.00 1022.86 L1626.00 1023.30 L1627.00 1023.68 L1628.00 1024.01 L1629.00 1024.30 L1630.00 1024.55 L1631.00 1024.77 L1632.00 1024.95 L1633.00 1025.11 L1634.00 1025.25 L1635.00 1025.37 L1636.00 1025.47 L1637.00 1025.55 L1638.00 1025.62 L1639.00 1025.69 L1640.00 1025.74 L1641.00 1025.78 L1642.00 1025.82 L1643.00 1025.86 L1644.00 1025.89 L1645.00 1025.92 L1646.00 1025.95 L1647.00 1025.98 L1648.00 1026.01 L1649.00 1026.03 L1650.00 1026.06 L1651.00 1026.09 L1652.00 1026.12 L1653.00 1026.15 L1654.00 1026.17 L1655.00 1026.20 L1656.00 1026.24 L1657.00 1026.27 L1658.00 1026.30 L1659.00 1026.33 L1660.00 1026.37 L1661.00 1026.41 L1662.00 1026.44 L1663.00 1026.48 L1664.00 1026.52 L1665.00 1026.56 L1666.00 1026.61 L1667.00 1026.65 L1668.00 1026.69 L1669.00 1026.74 L1670.00 1026.78 L1671.00 1026.83 L1672.00 1026.88 L1673.00 1026.93 L1674.00 1026.98 L1675.00 1027.03 L1676.00 1027.08 L1677.00 1027.13 L1678.00 1027.18 L1679.00 1027.24 L1680.00 1027.29 L1681.00 1027.35 L1682.00 1027.40 L1683.00 1027.46 L1684.00 1027.51 L1685.00 1027.57 L1686.00 1027.63 L1687.00 1027.68 L1688.00 1027.74 L1689.00 1027.80 L1690.00 1027.86 L1691.00 1027.92 L1692.00 1027.97 L1693.00 1028.03 L1694.00 1028.09 L1695.00 1028.15 L1696.00 1028.21 L1697.00 1028.27 L1698.00 1028.33 L1699.00 1028.38 L1700.00 1028.44 L1701.00 1028.50 L1702.00 1028.56 L1703.00 1028.62 L1704.00 1028.67 L1705.00 1028.73 L1706.00 1028.79 L1707.00 1028.84 L1708.00 1028.90 L1709.00 1028.95 L1710.00 1029.01 L1711.00 1029.06 L1712.00 1029.12 L1713.00 1029.17 L1714.00 1029.22 L1715.00 1029.27 L1716.00 1029.32 L1717.00 1029.37 L1718.00 1029.42 L1719.00 1029.47 L1720.00 1029.51 L1721.00 1029.56 L1722.00 1029.61 L1723.00 1029.65 L1724.00 1029.69 L1725.00 1029.73 L1726.00 1029.78 L1727.00 1029.81 L1728.00 1029.85 L1729.00 1029.89 L1730.00 1029.93 L1731.00 1029.96 L1732.00 1029.99 L1733.00 1030.02 L1734.00 1030.05 L1735.00 1030.08 L1736.00 1030.11 L1737.00 1030.13 L1738.00 1030.16 L1739.00 1030.18 L1740.00 1030.20 L1741.00 1030.22 L1742.00 1030.24 L1743.00 1030.25 L1744.00 1030.26 L1745.00 1030.27 L1746.00 1030.28 L1747.00 1030.29 L1748.00 1030.30 L1749.00 1030.30 L1750.00 1030.30 L1751.00 1030.30 L1752.00 1030.30 L1753.00 1030.30 L1754.00 1030.30 L1755.00 1030.30 L1756.00 1030.30 L1757.00 1030.30 L1758.00 1030.30 L1759.00 1030.30 L1760.00 1030.30 L1761.00 1030.30 L1762.00 1030.30 L1763.00 1030.30 L1764.00 1030.30 L1765.00 1030.30 L1766.00 1030.30 L1767.00 1030.30 L1768.00 1030.30 L1769.00 1030.30 L1770.00 1030.30 L1771.00 1030.30 L1772.00 1030.30 L1773.00 1030.30 L1774.00 1030.30 L1775.00 1030.30 L1776.00 1030.30 L1777.00 1030.30 L1778.00 1030.30 L1779.00 1030.30 L1780.00 1030.30 L1781.00 1030.30 L1782.00 1030.30 L1783.00 1030.30 L1784.00 1030.30 L1785.00 1030.30 L1786.00 1030.30 L1787.00 1030.30 L1788.00 1030.30 L1789.00 1030.30 L1790.00 1030.30 L1791.00 1030.30 L1792.00 1030.30 L1793.00 1030.30 L1794.00 1030.30 L1795.00 1030.30 L1796.00 1030.30 L1797.00 1030.30 L1798.00 1030.30 L1799.00 1030.30 L1800.00 1030.30 L1801.00 1030.30 L1802.00 1030.30 L1803.00 1030.30 L1804.00 1030.30 L1805.00 1030.30 L1806.00 1030.30 L1807.00 1030.30 L1808.00 1030.30 L1809.00 1030.30 L1810.00 1030.30 L1811.00 1030.30 L1812.00 1030.30 L1813.00 1030.30 L1814.00 1030.30 L1815.00 1030.30 L1816.00 1030.30 L1817.00 1030.30 L1818.00 1030.30 L1819.00 1030.30 L1820.00 1030.30 L1821.00 1030.30 L1822.00 1030.30 L1823.00 1030.30 L1824.00 1030.30 L1825.00 1030.30 L1826.00 1030.30 L1827.00 1030.30 L1828.00 1030.30 L1829.00 1030.30 L1830.00 1030.30 L1831.00 1030.30 L1832.00 1030.30 L1833.00 1030.30 L1834.00 1030.30 L1835.00 1030.30 L1836.00 1030.30 L1837.00 1030.30 L1838.00 1030.30 L1839.00 1030.30 L1840.00 1030.30 L1841.00 1030.30 L1842.00 1030.30 L1843.00 1030.30 L1844.00 1030.30 L1845.00 1030.30 L1846.00 1030.30 L1847.00 1030.30 L1848.00 1030.30 L1849.00 1030.30 L1850.00 1030.30 L1851.00 1030.30 L1852.00 1030.30 L1853.00 1030.30 L1854.00 1030.30 L1855.00 1030.30 L1856.00 1030.30 L1857.00 1030.30 L1858.00 1030.30 L1859.00 1030.30 L1860.00 1030.30 L1861.00 1030.30 L1862.00 1030.30 L1863.00 1030.30 L1864.00 1030.30 L1865.00 1030.30 L1866.00 1030.30 L1867.00 1030.30 L1868.00 1030.30"/>
<path d="M272.00 939.90 L273.00 939.90 L274.00 939.90 L275.00 939.90 L276.00 939.90 L277.00 939.90 L278.00 939.90 L279.00 939.90 L280.00 939.90 L281.00 939.90 L282.00 939.90 L283.00 939.90 L284.00 939.90 L285.00 939.90 L286.00 939.90 L287.00 939.90 L288.00 939.90 L289.00 939.90 L290.00 939.90 L291.00 939.90 L292.00 939.90 L293.00 939.90 L294.00 939.90 L295.00 939.90 L296.00 939.90 L297.00 939.90 L298.00 939.90 L299.00 939.90 L300.00 939.90 L301.00 939.90 L302.00 939.90 L303.00 939.90 L304.00 939.90 L305.00 939.90 L306.00 939.90 L307.00 939.90 L308.00 939.90 L309.00 939.90 L310.00 939.90 L311.00 939.90 L312.00 939.90 L313.00 939.90 L314.00 939.90 L315.00 939.90 L316.00 939.90 L317.00 939.90 L318.00 939.90 L319.00 939.90 L320.00 939.90 L321.00 939.90 L322.00 939.90 L323.00 939.90 L324.00 939.90 L325.00 939.90 L326.00 939.90 L327.00 939.90 L328.00 939.90 L329.00 939.90 L330.00 939.90 L331.00 939.90 L332.00 939.90 L333.00 939.90 L334.00 939.90 L335.00 939.90 L336.00 939.90 L337.00 939.90 L338.00 939.90 L339.00 939.90 L340.00 939.90 L341.00 939.90 L342.00 939.90 L343.00 939.90 L344.00 939.90 L345.00 939.90 L346.00 939.90 L347.00 939.90 L348.00 939.90 L349.00 939.90 L350.00 939.90 L351.00 939.90 L352.00 939.90 L353.00 939.90 L354.00 939.90 L355.00 939.90 L356.00 939.90 L357.00 939.90 L358.00 939.90 L359.00 939.90 L360.00 939.90 L361.00 939.89 L362.00 939.89 L363.00 939.89 L364.00 939.89 L365.00 939.89 L366.00 939.89 L367.00 939.89 L368.00 939.89 L369.00 939.89 L370.00 939.89 L371.00 939.89 L372.00 939.89 L373.00 939.89 L374.00 939.89 L375.00 939.89 L376.00 939.89 L377.00 939.89 L378.00 939.89 L379.00 939.89 L380.00 939.89 L381.00 939.89 L382.00 939.89 L383.00 939.89 L384.00 939.89 L385.00 939.89 L386.00 939.89 L387.00 939.89 L388.00 939.89 L389.00 939.89 L390.00 939.89 L391.00 939.89 L392.00 939.89 L393.00 939.89 L394.00 939.89 L395.00 939.89 L396.00 939.89 L397.00 939.89 L398.00 939.89 L399.00 939.89 L400.00 939.89 L401.00 939.89 L402.00 939.89 L403.00 939.89 L404.00 939.89 L405.00 939.89 L406.00 939.89 L407.00 939.89 L408.00 939.89 L409.00 939.89 L410.00 939.89 L411.00 939.89 L412.00 939.89 L413.00 939.89 L414.00 939.89 L415.00 939.89 L416.00 939.89 L417.00 939.89 L418.00 939.89 L419.00 939.89 L420.00 939.89 L421.00 939.89 L422.00 939.89 L423.00 939.89 L424.00 939.89 L425.00 939.89 L426.00 939.89 L427.00 939.89 L428.00 939.89 L429.00 939.88 L430.00 939.88 L431.00 939.88 L432.00 939.88 L433.00 939.88 L434.00 939.88 L435.00 939.88 L436.00 939.88 L437.00 939.88 L438.00 939.88 L439.00 939.88 L440.00 939.88 L441.00 939.88 L442.00 939.88 L443.00 939.88 L444.00 939.88 L445.00 939.88 L446.00 939.88 L447.00 939.88 L448.00 939.88 L449.00 939.88 L450.00 939.88 L451.00 939.88 L452.00 939.88 L453.00 939.88 L454.00 939.88 L455.00 939.88 L456.00 939.88 L457.00 939.88 L458.00 939.88 L459.00 939.88 L460.00 939.88 L461.00 939.88 L462.00 939.88 L463.00 939.88 L464.00 939.88 L465.00 939.88 L466.00 939.88 L467.00 939.88 L468.00 939.88 L469.00 939.88 L470.00 939.88 L471.00 939.88 L472.00 939.88 L473.00 939.88 L474.00 939.88 L475.00 939.88 L476.00 939.88 L477.00 939.88 L478.00 939.88 L479.00 939.88 L480.00 939.87 L481.00 939.87 L482.00 939.87 L483.00 939.87 L484.00 939.87 L485.00 939.87 L486.00 939.87 L487.00 939.87 L488.00 939.87 L489.00 939.87 L490.00 939.87 L491.00 939.87 L492.00 939.87 L493.00 939.87 L494.00 939.87 L495.00 939.87 L496.00 939.87 L497.00 939.87 L498.00 939.87 L499.00 939.87 L500.00 939.87 L501.00 939.87 L502.00 939.87 L503.00 939.87 L504.00 939.87 L505.00 939.87 L506.00 939.87 L507.00 939.87 L508.00 939.87 L509.00 939.87 L510.00 939.87 L511.00 939.87 L512.00 939.87 L513.00 939.87 L514.00 939.87 L515.00 939.87 L516.00 939.87 L517.00 939.87 L518.00 939.87 L519.00 939.87 L520.00 939.87 L521.00 939.87 L522.00 939.87 L523.00 939.87 L524.00 939.87 L525.00 939.86 L526.00 939.86 L527.00 939.86 L528.00 939.86 L529.00 939.86 L530.00 939.86 L531.00 939.86 L532.00 939.86 L533.00 939.86 L534.00 939.86 L535.00 939.86 L536.00 939.86 L537.00 939.86 L538.00 939.86 L539.00 939.86 L540.00 939.86 L541.00 939.86 L542.00 939.86 L543.00 939.86 L544.00 939.86 L545.00 939.86 L546.00 939.86 L547.00 939.86 L548.00 939.86 L549.00 939.86 L550.00 939.86 L551.00 939.86 L552.00 939.86 L553.00 939.86 L554.00 939.86 L555.00 939.86 L556.00 939.86 L557.00 939.86 L558.00 939.86 L559.00 939.86 L560.00 939.86 L561.00 939.86 L562.00 939.86 L563.00 939.86 L564.00 939.86 L565.00 939.86 L566.00 939.86 L567.00 939.86 L568.00 939.85 L569.00 939.85 L570.00 939.85 L571.00 939.85 L572.00 939.85 L573.00 939.85 L574.00 939.85 L575.00 939.85 L576.00 939.85 L577.00 939.85 L578.00 939.85 L579.00 939.85 L580.00 939.85 L581.00 939.85 L582.00 939.85 L583.00 939.85 L584.00 939.85 L585.00 939.85 L586.00 939.85 L587.00 939.85 L588.00 939.85 L589.00 939.85 L590.00 939.85 L591.00 939.85 L592.00 939.85 L593.00 939.85 L594.00 939.85 L595.00 939.85 L596.00 939.84 L597.00 939.84 L598.00 939.84 L599.00 939.84 L600.00 939.83 L601.00 939.82 L602.00 939.82 L603.00 939.80 L604.00 939.79 L605.00 939.77 L606.00 939.74 L607.00 939.71 L608.00 939.67 L609.00 939.61 L610.00 939.55 L611.00 939.48 L612.00 939.39 L613.00 939.29 L614.00 939.17 L615.00 939.04 L616.00 938.90 L617.00 938.74 L618.00 938.58 L619.00 938.41 L620.00 938.23 L621.00 938.06 L622.00 937.89 L623.00 937.73 L624.00 937.59 L625.00 937.46 L626.00 937.36 L627.00 937.29 L628.00 937.25 L629.00 937.24 L630.00 937.26 L631.00 937.32 L632.00 937.40 L633.00 937.51 L634.00 937.64 L635.00 937.79 L636.00 937.95 L637.00 938.12 L638.00 938.30 L639.00 938.47 L640.00 938.64 L641.00 938.80 L642.00 938.95 L643.00 939.09 L644.00 939.21 L645.00 939.32 L646.00 939.42 L647.00 939.50 L648.00 939.57 L649.00 939.63 L650.00 939.67 L651.00 939.71 L652.00 939.74 L653.00 939.76 L654.00 939.78 L655.00 939.80 L656.00 939.81 L657.00 939.81 L658.00 939.82 L659.00 939.82 L660.00 939.83 L661.00 939.83 L662.00 939.83 L663.00 939.83 L664.00 939.83 L665.00 939.83 L666.00 939.83 L667.00 939.83 L668.00 939.83 L669.00 939.83 L670.00 939.83 L671.00 939.83 L672.00 939.83 L673.00 939.83 L674.00 939.83 L675.00 939.83 L676.00 939.83 L677.00 939.83 L678.00 939.83 L679.00 939.83 L680.00 939.83 L681.00 939.83 L682.00 939.83 L683.00 939.83 L684.00 939.83 L685.00 939.83 L686.00 939.83 L687.00 939.83 L688.00 939.83 L689.00 939.83 L690.00 939.83 L691.00 939.83 L692.00 939.83 L693.00 939.83 L694.00 939.83 L695.00 939.83 L696.00 939.83 L697.00 939.82 L698.00 939.82 L699.00 939.82 L700.00 939.82 L701.00 939.82 L702.00 939.82 L703.00 939.82 L704.00 939.82 L705.00 939.82 L706.00 939.82 L707.00 939.82 L708.00 939.82 L709.00 939.82 L710.00 939.82 L711.00 939.82 L712.00 939.82 L713.00 939.82 L714.00 939.82 L715.00 939.82 L716.00 939.82 L717.00 939.82 L718.00 939.82 L719.00 939.82 L720.00 939.82 L721.00 939.82 L722.00 939.82 L723.00 939.82 L724.00 939.82 L725.00 939.82 L726.00 939.82 L727.00 939.82 L728.00 939.82 L729.00 939.82 L730.00 939.82 L731.00 939.82 L732.00 939.81 L733.00 939.81 L734.00 939.81 L735.00 939.81 L736.00 939.81 L737.00 939.80 L738.00 939.80 L739.00 939.79 L740.00 939.78 L741.00 939.77 L742.00 939.76 L743.00 939.74 L744.00 939.72 L745.00 939.69 L746.00 939.66 L747.00 939.62 L748.00 939.58 L749.00 939.52 L750.00 939.45 L751.00 939.37 L752.00 939.27 L753.00 939.15 L754.00 939.02 L755.00 938.86 L756.00 938.68 L757.00 938.46 L758.00 938.22 L759.00 937.95 L760.00 937.64 L761.00 937.29 L762.00 936.90 L763.00 936.47 L764.00 935.99 L765.00 935.48 L766.00 934.92 L767.00 934.32 L768.00 933.68 L769.00 933.00 L770.00 932.29 L771.00 931.55 L772.00 930.78 L773.00 930.00 L774.00 929.21 L775.00 928.42 L776.00 927.64 L777.00 926.88 L778.00 926.14 L779.00 925.44 L780.00 924.79 L781.00 924.19 L782.00 923.66 L783.00 923.20 L784.00 922.82 L785.00 922.53 L786.00 922.33 L787.00 922.23 L788.00 922.22 L789.00 922.30 L790.00 922.48 L791.00 922.76 L792.00 923.12 L793.00 923.56 L794.00 924.08 L795.00 924.66 L796.00 925.30 L797.00 926.00 L798.00 926.73 L799.00 927.49 L800.00 928.26 L801.00 929.05 L802.00 929.84 L803.00 930.62 L804.00 931.39 L805.00 932.14 L806.00 932.85 L807.00 933.54 L808.00 934.19 L809.00 934.80 L810.00 935.36 L811.00 935.89 L812.00 936.37 L813.00 936.81 L814.00 937.20 L815.00 937.56 L816.00 937.88 L817.00 938.16 L818.00 938.41 L819.00 938.63 L820.00 938.82 L821.00 938.98 L822.00 939.12 L823.00 939.24 L824.00 939.34 L825.00 939.42 L826.00 939.50 L827.00 939.55 L828.00 939.60 L829.00 939.64 L830.00 939.68 L831.00 939.70 L832.00 939.72 L833.00 939.74 L834.00 939.76 L835.00 939.77 L836.00 939.77 L837.00 939.78 L838.00 939.79 L839.00 939.79 L840.00 939.79 L841.00 939.80 L842.00 939.80 L843.00 939.80 L844.00 939.80 L845.00 939.80 L846.00 939.80 L847.00 939.80 L848.00 939.80 L849.00 939.80 L850.00 939.80 L851.00 939.80 L852.00 939.80 L853.00 939.80 L854.00 939.80 L855.00 939.80 L856.00 939.80 L857.00 939.80 L858.00 939.80 L859.00 939.80 L860.00 939.80 L861.00 939.80 L862.00 939.80 L863.00 939.80 L864.00 939.80 L865.00 939.80 L866.00 939.80 L867.00 939.80 L868.00 939.80 L869.00 939.80 L870.00 939.80 L871.00 939.80 L872.00 939.80 L873.00 939.80 L874.00 939.80 L875.00 939.80 L876.00 939.80 L877.00 939.80 L878.00 939.80 L879.00 939.80 L880.00 939.80 L881.00 939.80 L882.00 939.80 L883.00 939.80 L884.00 939.80 L885.00 939.80 L886.00 939.80 L887.00 939.80 L888.00 939.80 L889.00 939.80 L890.00 939.80 L891.00 939.80 L892.00 939.80 L893.00 939.80 L894.00 939.80 L895.00 939.80 L896.00 939.80 L897.00 939.80 L898.00 939.80 L899.00 939.80 L900.00 939.80 L901.00 939.80 L902.00 939.80 L903.00 939.80 L904.00 939.80 L905.00 939.80 L906.00 939.80 L907.00 939.80 L908.00 939.80 L909.00 939.80 L910.00 939.80 L911.00 939.80 L912.00 939.80 L913.00 939.80 L914.00 939.81 L915.00 939.82 L916.00 939.83 L917.00 939.84 L918.00 939.86 L919.00 939.88 L920.00 939.91 L921.00 939.95 L922.00 940.00 L923.00 940.05 L924.00 940.12 L925.00 940.20 L926.00 940.29 L927.00 940.39 L928.00 940.50 L929.00 940.62 L930.00 940.73 L931.00 940.85 L932.00 940.97 L933.00 941.07 L934.00 941.17 L935.00 941.24 L936.00 941.30 L937.00 941.33 L938.00 941.34 L939.00 941.33 L940.00 941.29 L941.00 941.23 L942.00 941.14 L943.00 941.04 L944.00 940.93 L945.00 940.81 L946.00 940.69 L947.00 940.57 L948.00 940.45 L949.00 940.33 L950.00 940.23 L951.00 940.13 L952.00 940.05 L953.00 939.97 L954.00 939.91 L955.00 939.86 L956.00 939.81 L957.00 939.78 L958.00 939.75 L959.00 939.73 L960.00 939.71 L961.00 939.69 L962.00 939.68 L963.00 939.67 L964.00 939.66 L965.00 939.66 L966.00 939.65 L967.00 939.65 L968.00 939.64 L969.00 939.64 L970.00 939.63 L971.00 939.63 L972.00 939.62 L973.00 939.62 L974.00 939.61 L975.00 939.61 L976.00 939.61 L977.00 939.60 L978.00 939.60 L979.00 939.59 L980.00 939.59 L981.00 939.58 L982.00 939.58 L983.00 939.58 L984.00 939.57 L985.00 939.57 L986.00 939.56 L987.00 939.56 L988.00 939.55 L989.00 939.55 L990.00 939.54 L991.00 939.54 L992.00 939.54 L993.00 939.53 L994.00 939.53 L995.00 939.52 L996.00 939.52 L997.00 939.51 L998.00 939.51 L999.00 939.50 L1000.00 939.50 L1001.00 939.50 L1002.00 939.49 L1003.00 939.49 L1004.00 939.48 L1005.00 939.48 L1006.00 939.47 L1007.00 939.47 L1008.00 939.46 L1009.00 939.46 L1010.00 939.46 L1011.00 939.45 L1012.00 939.45 L1013.00 939.44 L1014.00 939.44 L1015.00 939.43 L1016.00 939.43 L1017.00 939.42 L1018.00 939.42 L1019.00 939.42 L1020.00 939.41 L1021.00 939.41 L1022.00 939.40 L1023.00 939.40 L1024.00 939.39 L1025.00 939.39 L1026.00 939.39 L1027.00 939.38 L1028.00 939.38 L1029.00 939.37 L1030.00 939.37 L1031.00 939.36 L1032.00 939.36 L1033.00 939.36 L1034.00 939.35 L1035.00 939.35 L1036.00 939.34 L1037.00 939.34 L1038.00 939.34 L1039.00 939.33 L1040.00 939.33 L1041.00 939.33 L1042.00 939.32 L1043.00 939.32 L1044.00 939.31 L1045.00 939.31 L1046.00 939.31 L1047.00 939.30 L1048.00 939.30 L1049.00 939.30 L1050.00 939.29 L1051.00 939.29 L1052.00 939.29 L1053.00 939.28 L1054.00 939.28 L1055.00 939.28 L1056.00 939.27 L1057.00 939.27 L1058.00 939.27 L1059.00 939.27 L1060.00 939.26 L1061.00 939.26 L1062.00 939.26 L1063.00 939.25 L1064.00 939.25 L1065.00 939.25 L1066.00 939.25 L1067.00 939.24 L1068.00 939.24 L1069.00 939.24 L1070.00 939.24 L1071.00 939.23 L1072.00 939.23 L1073.00 939.23 L1074.00 939.23 L1075.00 939.23 L1076.00 939.22 L1077.00 939.22 L1078.00 939.22 L1079.00 939.22 L1080.00 939.22 L1081.00 939.22 L1082.00 939.21 L1083.00 939.21 L1084.00 939.21 L1085.00 939.21 L1086.00 939.21 L1087.00 939.21 L1088.00 939.21 L1089.00 939.21 L1090.00 939.20 L1091.00 939.20 L1092.00 939.20 L1093.00 939.20 L1094.00 939.20 L1095.00 939.20 L1096.00 939.20 L1097.00 939.20 L1098.00 939.20 L1099.00 939.20 L1100.00 939.20 L1101.00 939.20 L1102.00 939.20 L1103.00 939.20 L1104.00 939.20 L1105.00 939.20 L1106.00 939.20 L1107.00 939.20 L1108.00 939.20 L1109.00 939.20 L1110.00 939.20 L1111.00 939.20 L1112.00 939.20 L1113.00 939.20 L1114.00 939.20 L1115.00 939.20 L1116.00 939.19 L1117.00 939.19 L1118.00 939.19 L1119.00 939.19 L1120.00 939.19 L1121.00 939.19 L1122.00 939.19 L1123.00 939.19 L1124.00 939.19 L1125.00 939.19 L1126.00 939.19 L1127.00 939.19 L1128.00 939.18 L1129.00 939.18 L1130.00 939.18 L1131.00 939.18 L1132.00 939.18 L1133.00 939.18 L1134.00 939.18 L1135.00 939.18 L1136.00 939.17 L1137.00 939.17 L1138.00 939.17 L1139.00 939.17 L1140.00 939.17 L1141.00 939.17 L1142.00 939.17 L1143.00 939.16 L1144.00 939.16 L1145.00 939.16 L1146.00 939.16 L1147.00 939.16 L1148.00 939.16 L1149.00 939.15 L1150.00 939.15 L1151.00 939.15 L1152.00 939.15 L1153.00 939.15 L1154.00 939.15 L1155.00 939.14 L1156.00 939.14 L1157.00 939.14 L1158.00 939.14 L1159.00 939.14 L1160.00 939.13 L1161.00 939.13 L1162.00 939.13 L1163.00 939.13 L1164.00 939.13 L1165.00 939.12 L1166.00 939.12 L1167.00 939.12 L1168.00 939.12 L1169.00 939.11 L1170.00 939.11 L1171.00 939.11 L1172.00 939.11 L1173.00 939.11 L1174.00 939.10 L1175.00 939.10 L1176.00 939.10 L1177.00 939.10 L1178.00 939.09 L1179.00 939.09 L1180.00 939.09 L1181.00 939.09 L1182.00 939.08 L1183.00 939.08 L1184.00 939.08 L1185.00 939.08 L1186.00 939.07 L1187.00 939.07 L1188.00 939.07 L1189.00 939.06 L1190.00 939.06 L1191.00 939.06 L1192.00 939.06 L1193.00 939.05 L1194.00 939.05 L1195.00 939.05 L1196.00 939.04 L1197.00 939.04 L1198.00 939.04 L1199.00 939.04 L1200.00 939.03 L1201.00 939.03 L1202.00 939.03 L1203.00 939.02 L1204.00 939.02 L1205.00 939.02 L1206.00 939.02 L1207.00 939.01 L1208.00 939.01 L1209.00 939.01 L1210.00 939.00 L1211.00 939.00 L1212.00 939.00 L1213.00 938.99 L1214.00 938.99 L1215.00 938.99 L1216.00 938.98 L1217.00 938.98 L1218.00 938.98 L1219.00 938.97 L1220.00 938.97 L1221.00 938.97 L1222.00 938.96 L1223.00 938.96 L1224.00 938.96 L1225.00 938.96 L1226.00 938.95 L1227.00 938.95 L1228.00 938.95 L1229.00 938.94 L1230.00 938.94 L1231.00 938.94 L1232.00 938.93 L1233.00 938.93 L1234.00 938.93 L1235.00 938.92 L1236.00 938.92 L1237.00 938.92 L1238.00 938.91 L1239.00 938.91 L1240.00 938.90 L1241.00 938.90 L1242.00 938.90 L1243.00 938.89 L1244.00 938.89 L1245.00 938.89 L1246.00 938.88 L1247.00 938.88 L1248.00 938.88 L1249.00 938.87 L1250.00 938.87 L1251.00 938.87 L1252.00 938.86 L1253.00 938.86 L1254.00 938.86 L1255.00 938.85 L1256.00 938.85 L1257.00 938.85 L1258.00 938.84 L1259.00 938.84 L1260.00 938.84 L1261.00 938.83 L1262.00 938.83 L1263.00 938.82 L1264.00 938.82 L1265.00 938.82 L1266.00 938.81 L1267.00 938.81 L1268.00 938.81 L1269.00 938.80 L1270.00 938.80 L1271.00 938.80 L1272.00 938.79 L1273.00 938.79 L1274.00 938.79 L1275.00 938.78 L1276.00 938.78 L1277.00 938.78 L1278.00 938.77 L1279.00 938.77 L1280.00 938.76 L1281.00 938.76 L1282.00 938.76 L1283.00 938.75 L1284.00 938.75 L1285.00 938.75 L1286.00 938.74 L1287.00 938.74 L1288.00 938.74 L1289.00 938.73 L1290.00 938.73 L1291.00 938.73 L1292.00 938.72 L1293.00 938.72 L1294.00 938.72 L1295.00 938.71 L1296.00 938.71 L1297.00 938.71 L1298.00 938.70 L1299.00 938.70 L1300.00 938.70 L1301.00 938.69 L1302.00 938.69 L1303.00 938.68 L1304.00 938.68 L1305.00 938.68 L1306.00 938.67 L1307.00 938.67 L1308.00 938.67 L1309.00 938.66 L1310.00 938.66 L1311.00 938.66 L1312.00 938.65 L1313.00 938.65 L1314.00 938.65 L1315.00 938.64 L1316.00 938.64 L1317.00 938.64 L1318.00 938.64 L1319.00 938.63 L1320.00 938.63 L1321.00 938.63 L1322.00 938.62 L1323.00 938.62 L1324.00 938.62 L1325.00 938.61 L1326.00 938.61 L1327.00 938.61 L1328.00 938.60 L1329.00 938.60 L1330.00 938.60 L1331.00 938.59 L1332.00 938.59 L1333.00 938.59 L1334.00 938.58 L1335.00 938.58 L1336.00 938.58 L1337.00 938.58 L1338.00 938.57 L1339.00 938.57 L1340.00 938.57 L1341.00 938.56 L1342.00 938.56 L1343.00 938.56 L1344.00 938.56 L1345.00 938.55 L1346.00 938.55 L1347.00 938.55 L1348.00 938.54 L1349.00 938.54 L1350.00 938.54 L1351.00 938.54 L1352.00 938.53 L1353.00 938.53 L1354.00 938.53 L1355.00 938.52 L1356.00 938.52 L1357.00 938.52 L1358.00 938.52 L1359.00 938.51 L1360.00 938.51 L1361.00 938.51 L1362.00 938.51 L1363.00 938.50 L1364.00 938.50 L1365.00 938.50 L1366.00 938.50 L1367.00 938.49 L1368.00 938.49 L1369.00 938.49 L1370.00 938.49 L1371.00 938.49 L1372.00 938.48 L1373.00 938.48 L1374.00 938.48 L1375.00 938.48 L1376.00 938.47 L1377.00 938.47 L1378.00 938.47 L1379.00 938.47 L1380.00 938.47 L1381.00 938.46 L1382.00 938.46 L1383.00 938.46 L1384.00 938.46 L1385.00 938.46 L1386.00 938.45 L1387.00 938.45 L1388.00 938.45 L1389.00 938.45 L1390.00 938.45 L1391.00 938.45 L1392.00 938.44 L1393.00 938.44 L1394.00 938.44 L1395.00 938.44 L1396.00 938.44 L1397.00 938.44 L1398.00 938.43 L1399.00 938.43 L1400.00 938.43 L1401.00 938.43 L1402.00 938.43 L1403.00 938.43 L1404.00 938.43 L1405.00 938.42 L1406.00 938.42 L1407.00 938.42 L1408.00 938.42 L1409.00 938.42 L1410.00 938.42 L1411.00 938.42 L1412.00 938.42 L1413.00 938.41 L1414.00 938.41 L1415.00 938.41 L1416.00 938.41 L1417.00 938.41 L1418.00 938.41 L1419.00 938.41 L1420.00 938.41 L1421.00 938.41 L1422.00 938.41 L1423.00 938.41 L1424.00 938.40 L1425.00 938.40 L1426.00 938.40 L1427.00 938.40 L1428.00 938.40 L1429.00 938.40 L1430.00 938.40 L1431.00 938.40 L1432.00 938.40 L1433.00 938.40 L1434.00 938.40 L1435.00 938.40 L1436.00 938.40 L1437.00 938.40 L1438.00 938.40 L1439.00 938.40 L1440.00 938.39 L1441.00 938.39 L1442.00 938.39 L1443.00 938.39 L1444.00 938.39 L1445.00 938.39 L1446.00 938.39 L1447.00 938.39 L1448.00 938.38 L1449.00 938.38 L1450.00 938.38 L1451.00 938.37 L1452.00 938.37 L1453.00 938.36 L1454.00 938.35 L1455.00 938.34 L1456.00 938.33 L1457.00 938.31 L1458.00 938.29 L1459.00 938.27 L1460.00 938.24 L1461.00 938.21 L1462.00 938.17 L1463.00 938.12 L1464.00 938.07 L1465.00 938.00 L1466.00 937.92 L1467.00 937.84 L1468.00 937.73 L1469.00 937.61 L1470.00 937.47 L1471.00 937.31 L1472.00 937.13 L1473.00 936.92 L1474.00 936.67 L1475.00 936.40 L1476.00 936.08 L1477.00 935.72 L1478.00 935.31 L1479.00 934.85 L1480.00 934.33 L1481.00 933.74 L1482.00 933.07 L1483.00 932.33 L1484.00 931.50 L1485.00 930.56 L1486.00 929.52 L1487.00 928.36 L1488.00 927.07 L1489.00 925.64 L1490.00 924.06 L1491.00 922.31 L1492.00 920.38 L1493.00 918.26 L1494.00 915.93 L1495.00 913.38 L1496.00 910.58 L1497.00 907.54 L1498.00 904.21 L1499.00 900.60 L1500.00 896.69 L1501.00 892.45 L1502.00 887.87 L1503.00 882.93 L1504.00 877.61 L1505.00 871.91 L1506.00 865.79 L1507.00 859.26 L1508.00 852.29 L1509.00 844.86 L1510.00 836.98 L1511.00 828.62 L1512.00 819.78 L1513.00 810.46 L1514.00 800.64 L1515.00 790.32 L1516.00 779.51 L1517.00 768.21 L1518.00 756.41 L1519.00 744.14 L1520.00 731.40 L1521.00 718.21 L1522.00 704.58 L1523.00 690.54 L1524.00 676.10 L1525.00 661.31 L1526.00 646.19 L1527.00 630.78 L1528.00 615.11 L1529.00 599.23 L1530.00 583.19 L1531.00 567.03 L1532.00 550.80 L1533.00 534.56 L1534.00 518.37 L1535.00 502.29 L1536.00 486.36 L1537.00 470.67 L1538.00 455.26 L1539.00 440.21 L1540.00 425.58 L1541.00 411.42 L1542.00 397.81 L1543.00 384.80 L1544.00 372.45 L1545.00 360.83 L1546.00 349.98 L1547.00 339.97 L1548.00 330.83 L1549.00 322.61 L1550.00 315.36 L1551.00 309.11 L1552.00 303.90 L1553.00 299.74 L1554.00 296.66 L1555.00 294.68 L1556.00 293.81 L1557.00 294.03 L1558.00 295.27 L1559.00 297.54 L1560.00 300.81 L1561.00 305.07 L1562.00 310.30 L1563.00 316.48 L1564.00 323.58 L1565.00 331.57 L1566.00 340.40 L1567.00 350.04 L1568.00 360.45 L1569.00 371.58 L1570.00 383.38 L1571.00 395.80 L1572.00 408.79 L1573.00 422.29 L1574.00 436.25 L1575.00 450.61 L1576.00 465.31 L1577.00 480.31 L1578.00 495.54 L1579.00 510.94 L1580.00 526.47 L1581.00 542.08 L1582.00 557.70 L1583.00 573.29 L1584.00 588.81 L1585.00 604.20 L1586.00 619.43 L1587.00 634.46 L1588.00 649.24 L1589.00 663.76 L1590.00 677.96 L1591.00 691.83 L1592.00 705.34 L1593.00 718.47 L1594.00 731.21 L1595.00 743.52 L1596.00 755.40 L1597.00 766.84 L1598.00 777.84 L1599.00 788.38 L1600.00 798.46 L1601.00 808.09 L1602.00 817.26 L1603.00 825.97 L1604.00 834.24 L1605.00 842.07 L1606.00 849.47 L1607.00 856.44 L1608.00 863.01 L1609.00 869.18 L1610.00 874.96 L1611.00 880.37 L1612.00 885.42 L1613.00 890.12 L1614.00 894.50 L1615.00 898.57 L1616.00 902.34 L1617.00 905.82 L1618.00 909.04 L1619.00 912.01 L1620.00 914.74 L1621.00 917.24 L1622.00 919.54 L1623.00 921.64 L1624.00 923.56 L1625.00 925.31 L1626.00 926.90 L1627.00 928.34 L1628.00 929.66 L1629.00 930.84 L1630.00 931.91 L1631.00 932.88 L1632.00 933.75 L1633.00 934.53 L1634.00 935.23 L1635.00 935.86 L1636.00 936.42 L1637.00 936.92 L1638.00 937.37 L1639.00 937.76 L1640.00 938.11 L1641.00 938.42 L1642.00 938.70 L1643.00 938.94 L1644.00 939.16 L1645.00 939.34 L1646.00 939.51 L1647.00 939.66 L1648.00 939.78 L1649.00 939.89 L1650.00 939.99 L1651.00 940.07 L1652.00 940.15 L1653.00 940.21 L1654.00 940.26 L1655.00 940.31 L1656.00 940.35 L1657.00 940.39 L1658.00 940.42 L1659.00 940.44 L1660.00 940.46 L1661.00 940.48 L1662.00 940.50 L1663.00 940.51 L1664.00 940.52 L1665.00 940.53 L1666.00 940.54 L1667.00 940.55 L1668.00 940.55 L1669.00 940.56 L1670.00 940.56 L1671.00 940.56 L1672.00 940.56 L1673.00 940.56 L1674.00 940.57 L1675.00 940.57 L1676.00 940.57 L1677.00 940.57 L1678.00 940.57 L1679.00 940.57 L1680.00 940.56 L1681.00 940.56 L1682.00 940.56 L1683.00 940.56 L1684.00 940.56 L1685.00 940.56 L1686.00 940.56 L1687.00 940.56 L1688.00 940.55 L1689.00 940.55 L1690.00 940.55 L1691.00 940.55 L1692.00 940.55 L1693.00 940.55 L1694.00 940.54 L1695.00 940.54 L1696.00 940.54 L1697.00 940.54 L1698.00 940.54 L1699.00 940.53 L1700.00 940.53 L1701.00 940.53 L1702.00 940.53 L1703.00 940.53 L1704.00 940.52 L1705.00 940.52 L1706.00 940.52 L1707.00 940.52 L1708.00 940.52 L1709.00 940.51 L1710.00 940.51 L1711.00 940.51 L1712.00 940.51 L1713.00 940.50 L1714.00 940.50 L1715.00 940.50 L1716.00 940.50 L1717.00 940.50 L1718.00 940.49 L1719.00 940.49 L1720.00 940.49 L1721.00 940.49 L1722.00 940.48 L1723.00 940.48 L1724.00 940.48 L1725.00 940.48 L1726.00 940.47 L1727.00 940.47 L1728.00 940.47 L1729.00 940.47 L1730.00 940.46 L1731.00 940.46 L1732.00 940.46 L1733.00 940.46 L1734.00 940.45 L1735.00 940.45 L1736.00 940.45 L1737.00 940.45 L1738.00 940.44 L1739.00 940.44 L1740.00 940.44 L1741.00 940.44 L1742.00 940.43 L1743.00 940.43 L1744.00 940.43 L1745.00 940.43 L1746.00 940.42 L1747.00 940.42 L1748.00 940.42 L1749.00 940.42 L1750.00 940.41 L1751.00 940.41 L1752.00 940.41 L1753.00 940.41 L1754.00 940.40 L1755.00 940.40 L1756.00 940.40 L1757.00 940.39 L1758.00 940.39 L1759.00 940.39 L1760.00 940.39 L1761.00 940.38 L1762.00 940.38 L1763.00 940.38 L1764.00 940.38 L1765.00 940.37 L1766.00 940.37 L1767.00 940.37 L1768.00 940.37 L1769.00 940.36 L1770.00 940.36 L1771.00 940.36 L1772.00 940.36 L1773.00 940.35 L1774.00 940.35 L1775.00 940.35 L1776.00 940.35 L1777.00 940.34 L1778.00 940.34 L1779.00 940.34 L1780.00 940.34 L1781.00 940.33 L1782.00 940.33 L1783.00 940.33 L1784.00 940.33 L1785.00 940.32 L1786.00 940.32 L1787.00 940.32 L1788.00 940.32 L1789.00 940.31 L1790.00 940.31 L1791.00 940.31 L1792.00 940.31 L1793.00 940.30 L1794.00 940.30 L1795.00 940.30 L1796.00 940.30 L1797.00 940.30 L1798.00 940.29 L1799.00 940.29 L1800.00 940.29 L1801.00 940.29 L1802.00 940.28 L1803.00 940.28 L1804.00 940.28 L1805.00 940.28 L1806.00 940.28 L1807.00 940.27 L1808.00 940.27 L1809.00 940.27 L1810.00 940.27 L1811.00 940.27 L1812.00 940.26 L1813.00 940.26 L1814.00 940.26 L1815.00 940.26 L1816.00 940.26 L1817.00 940.25 L1818.00 940.25 L1819.00 940.25 L1820.00 940.25 L1821.00 940.25 L1822.00 940.24 L1823.00 940.24 L1824.00 940.24 L1825.00 940.24 L1826.00 940.24 L1827.00 940.24 L1828.00 940.24 L1829.00 940.23 L1830.00 940.23 L1831.00 940.23 L1832.00 940.23 L1833.00 940.23 L1834.00 940.23 L1835.00 940.22 L1836.00 940.22 L1837.00 940.22 L1838.00 940.22 L1839.00 940.22 L1840.00 940.22 L1841.00 940.22 L1842.00 940.22 L1843.00 940.22 L1844.00 940.21 L1845.00 940.21 L1846.00 940.21 L1847.00 940.21 L1848.00 940.21 L1849.00 940.21 L1850.00 940.21 L1851.00 940.21 L1852.00 940.21 L1853.00 940.21 L1854.00 940.21 L1855.00 940.20 L1856.00 940.20 L1857.00 940.20 L1858.00 940.20 L1859.00 940.20 L1860.00 940.20 L1861.00 940.20 L1862.00 940.20 L1863.00 940.20 L1864.00 940.20 L1865.00 940.20 L1866.00 940.20 L1867.00 940.20 L1868.00 940.20"/>
<path d="M272.00 848.50 L273.00 848.50 L274.00 848.50 L275.00 848.50 L276.00 848.50 L277.00 848.50 L278.00 848.50 L279.00 848.50 L280.00 848.50 L281.00 848.50 L282.00 848.50 L283.00 848.50 L284.00 848.50 L285.00 848.50 L286.00 848.50 L287.00 848.50 L288.00 848.50 L289.00 848.50 L290.00 848.50 L291.00 848.50 L292.00 848.50 L293.00 848.50 L294.00 848.50 L295.00 848.50 L296.00 848.50 L297.00 848.50 L298.00 848.50 L299.00 848.50 L300.00 848.50 L301.00 848.50 L302.00 848.50 L303.00 848.50 L304.00 848.50 L305.00 848.50 L306.00 848.50 L307.00 848.50 L308.00 848.50 L309.00 848.50 L310.00 848.50 L311.00 848.50 L312.00 848.50 L313.00 848.50 L314.00 848.50 L315.00 848.50 L316.00 848.50 L317.00 848.50 L318.00 848.50 L319.00 848.50 L320.00 848.50 L321.00 848.50 L322.00 848.50 L323.00 848.50 L324.00 848.50 L325.00 848.50 L326.00 848.50 L327.00 848.50 L328.00 848.50 L329.00 848.50 L330.00 848.50 L331.00 848.50 L332.00 848.50 L333.00 848.50 L334.00 848.50 L335.00 848.50 L336.00 848.50 L337.00 848.50 L338.00 848.50 L339.00 848.50 L340.00 848.50 L341.00 848.50 L342.00 848.50 L343.00 848.50 L344.00 848.50 L345.00 848.50 L346.00 848.50 L347.00 848.50 L348.00 848.50 L349.00 848.50 L350.00 848.50 L351.00 848.50 L352.00 848.50 L353.00 848.50 L354.00 848.50 L355.00 848.50 L356.00 848.50 L357.00 848.50 L358.00 848.50 L359.00 848.50 L360.00 848.50 L361.00 848.50 L362.00 848.50 L363.00 848.50 L364.00 848.50 L365.00 848.50 L366.00 848.50 L367.00 848.50 L368.00 848.50 L369.00 848.50 L370.00 848.50 L371.00 848.50 L372.00 848.50 L373.00 848.50 L374.00 848.50 L375.00 848.50 L376.00 848.50 L377.00 848.50 L378.00 848.50 L379.00 848.50 L380.00 848.50 L381.00 848.50 L382.00 848.50 L383.00 848.50 L384.00 848.50 L385.00 848.50 L386.00 848.50 L387.00 848.50 L388.00 848.50 L389.00 848.50 L390.00 848.50 L391.00 848.50 L392.00 848.50 L393.00 848.50 L394.00 848.50 L395.00 848.50 L396.00 848.50 L397.00 848.50 L398.00 848.50 L399.00 848.50 L400.00 848.50 L401.00 848.50 L402.00 848.50 L403.00 848.50 L404.00 848.50 L405.00 848.50 L406.00 848.50 L407.00 848.50 L408.00 848.50 L409.00 848.50 L410.00 848.50 L411.00 848.50 L412.00 848.50 L413.00 848.50 L414.00 848.50 L415.00 848.50 L416.00 848.50 L417.00 848.50 L418.00 848.50 L419.00 848.50 L420.00 848.50 L421.00 848.50 L422.00 848.50 L423.00 848.50 L424.00 848.50 L425.00 848.50 L426.00 848.50 L427.00 848.50 L428.00 848.50 L429.00 848.50 L430.00 848.50 L431.00 848.50 L432.00 848.50 L433.00 848.50 L434.00 848.50 L435.00 848.50 L436.00 848.50 L437.00 848.50 L438.00 848.50 L439.00 848.50 L440.00 848.50 L441.00 848.50 L442.00 848.50 L443.00 848.50 L444.00 848.50 L445.00 848.50 L446.00 848.50 L447.00 848.50 L448.00 848.50 L449.00 848.50 L450.00 848.50 L451.00 848.50 L452.00 848.50 L453.00 848.50 L454.00 848.50 L455.00 848.50 L456.00 848.50 L457.00 848.50 L458.00 848.50 L459.00 848.50 L460.00 848.50 L461.00 848.50 L462.00 848.50 L463.00 848.50 L464.00 848.50 L465.00 848.50 L466.00 848.50 L467.00 848.50 L468.00 848.50 L469.00 848.50 L470.00 848.50 L471.00 848.50 L472.00 848.50 L473.00 848.50 L474.00 848.50 L475.00 848.50 L476.00 848.50 L477.00 848.50 L478.00 848.50 L479.00 848.50 L480.00 848.50 L481.00 848.50 L482.00 848.50 L483.00 848.50 L484.00 848.50 L485.00 848.50 L486.00 848.50 L487.00 848.50 L488.00 848.50 L489.00 848.32 L490.00 847.90 L491.00 847.40 L492.00 846.98 L493.00 846.80 L494.00 846.80 L495.00 846.80 L496.00 846.80 L497.00 846.80 L498.00 846.80 L499.00 846.80 L500.00 846.80 L501.00 846.80 L502.00 846.80 L503.00 846.80 L504.00 846.80 L505.00 846.80 L506.00 846.80 L507.00 846.80 L508.00 846.80 L509.00 846.80 L510.00 846.80 L511.00 846.80 L512.00 846.80 L513.00 846.80 L514.00 846.80 L515.00 846.80 L516.00 846.80 L517.00 846.80 L518.00 846.98 L519.00 847.40 L520.00 847.90 L521.00 848.32 L522.00 848.50 L523.00 848.50 L524.00 848.50 L525.00 848.50 L526.00 848.50 L527.00 848.50 L528.00 848.50 L529.00 848.50 L530.00 848.50 L531.00 848.50 L532.00 848.50 L533.00 848.50 L534.00 848.50 L535.00 848.50 L536.00 848.50 L537.00 848.50 L538.00 848.50 L539.00 848.50 L540.00 848.50 L541.00 848.50 L542.00 848.32 L543.00 847.90 L544.00 847.40 L545.00 846.98 L546.00 846.80 L547.00 846.80 L548.00 846.80 L549.00 846.80 L550.00 846.80 L551.00 846.80 L552.00 846.80 L553.00 846.80 L554.00 846.80 L555.00 846.80 L556.00 846.80 L557.00 846.80 L558.00 846.80 L559.00 846.80 L560.00 846.80 L561.00 846.80 L562.00 846.80 L563.00 846.80 L564.00 846.80 L565.00 846.80 L566.00 846.80 L567.00 846.80 L568.00 846.80 L569.00 846.80 L570.00 846.80 L571.00 846.80 L572.00 846.80 L573.00 846.80 L574.00 846.80 L575.00 846.80 L576.00 846.80 L577.00 846.80 L578.00 846.80 L579.00 846.80 L580.00 846.80 L581.00 846.80 L582.00 846.80 L583.00 846.80 L584.00 846.80 L585.00 846.80 L586.00 846.80 L587.00 846.80 L588.00 846.80 L589.00 846.79 L590.00 846.79 L591.00 846.79 L592.00 846.79 L593.00 846.78 L594.00 846.77 L595.00 846.76 L596.00 846.75 L597.00 846.74 L598.00 846.72 L599.00 846.69 L600.00 846.66 L601.00 846.62 L602.00 846.57 L603.00 846.51 L604.00 846.43 L605.00 846.34 L606.00 846.23 L607.00 846.10 L608.00 845.94 L609.00 845.76 L610.00 845.55 L611.00 845.31 L612.00 845.04 L613.00 844.73 L614.00 844.39 L615.00 844.01 L616.00 843.60 L617.00 843.15 L618.00 842.68 L619.00 842.17 L620.00 841.64 L621.00 841.09 L622.00 840.54 L623.00 839.98 L624.00 839.43 L625.00 838.89 L626.00 838.38 L627.00 837.90 L628.00 837.47 L629.00 837.08 L630.00 836.76 L631.00 836.51 L632.00 836.33 L633.00 836.23 L634.00 836.20 L635.00 836.26 L636.00 836.39 L637.00 836.60 L638.00 836.88 L639.00 837.23 L640.00 837.63 L641.00 838.09 L642.00 838.58 L643.00 839.10 L644.00 839.65 L645.00 840.20 L646.00 840.76 L647.00 841.31 L648.00 841.85 L649.00 842.37 L650.00 842.87 L651.00 843.34 L652.00 843.77 L653.00 844.17 L654.00 844.53 L655.00 844.86 L656.00 845.16 L657.00 845.41 L658.00 845.64 L659.00 845.84 L660.00 846.01 L661.00 846.15 L662.00 846.28 L663.00 846.38 L664.00 846.46 L665.00 846.53 L666.00 846.59 L667.00 846.64 L668.00 846.67 L669.00 846.70 L670.00 846.73 L671.00 846.74 L672.00 846.76 L673.00 846.77 L674.00 846.78 L675.00 846.78 L676.00 846.79 L677.00 846.79 L678.00 846.79 L679.00 846.80 L680.00 846.80 L681.00 846.80 L682.00 846.80 L683.00 846.80 L684.00 846.80 L685.00 846.80 L686.00 846.80 L687.00 846.80 L688.00 846.80 L689.00 846.80 L690.00 846.80 L691.00 846.80 L692.00 846.80 L693.00 846.80 L694.00 846.80 L695.00 846.80 L696.00 846.80 L697.00 846.80 L698.00 846.80 L699.00 846.80 L700.00 846.80 L701.00 846.80 L702.00 846.80 L703.00 846.80 L704.00 846.80 L705.00 846.81 L706.00 846.81 L707.00 846.81 L708.00 846.82 L709.00 846.82 L710.00 846.83 L711.00 846.83 L712.00 846.84 L713.00 846.84 L714.00 846.85 L715.00 846.85 L716.00 846.86 L717.00 846.86 L718.00 846.87 L719.00 846.88 L720.00 846.88 L721.00 846.89 L722.00 846.90 L723.00 846.90 L724.00 846.91 L725.00 846.92 L726.00 846.92 L727.00 846.93 L728.00 846.94 L729.00 846.94 L730.00 846.95 L731.00 846.95 L732.00 846.96 L733.00 846.96 L734.00 846.96 L735.00 846.97 L736.00 846.97 L737.00 846.97 L738.00 846.97 L739.00 846.96 L740.00 846.96 L741.00 846.95 L742.00 846.94 L743.00 846.93 L744.00 846.91 L745.00 846.88 L746.00 846.85 L747.00 846.81 L748.00 846.75 L749.00 846.69 L750.00 846.61 L751.00 846.51 L752.00 846.40 L753.00 846.27 L754.00 846.11 L755.00 845.94 L756.00 845.73 L757.00 845.50 L758.00 845.23 L759.00 844.93 L760.00 844.60 L761.00 844.23 L762.00 843.82 L763.00 843.38 L764.00 842.89 L765.00 842.37 L766.00 841.81 L767.00 841.21 L768.00 840.59 L769.00 839.94 L770.00 839.26 L771.00 838.57 L772.00 837.87 L773.00 837.17 L774.00 836.47 L775.00 835.79 L776.00 835.13 L777.00 834.50 L778.00 833.92 L779.00 833.38 L780.00 832.91 L781.00 832.49 L782.00 832.15 L783.00 831.89 L784.00 831.70 L785.00 831.60 L786.00 831.58 L787.00 831.65 L788.00 831.80 L789.00 832.02 L790.00 832.33 L791.00 832.69 L792.00 833.13 L793.00 833.61 L794.00 834.14 L795.00 834.71 L796.00 835.30 L797.00 835.92 L798.00 836.54 L799.00 837.17 L800.00 837.79 L801.00 838.40 L802.00 839.00 L803.00 839.57 L804.00 840.11 L805.00 840.62 L806.00 841.10 L807.00 841.55 L808.00 841.96 L809.00 842.33 L810.00 842.67 L811.00 842.97 L812.00 843.24 L813.00 843.49 L814.00 843.70 L815.00 843.88 L816.00 844.05 L817.00 844.19 L818.00 844.31 L819.00 844.42 L820.00 844.51 L821.00 844.58 L822.00 844.64 L823.00 844.69 L824.00 844.73 L825.00 844.77 L826.00 844.80 L827.00 844.82 L828.00 844.84 L829.00 844.85 L830.00 844.86 L831.00 844.87 L832.00 844.88 L833.00 844.88 L834.00 844.89 L835.00 844.89 L836.00 844.89 L837.00 844.89 L838.00 844.90 L839.00 844.90 L840.00 844.90 L841.00 844.90 L842.00 844.90 L843.00 844.90 L844.00 844.90 L845.00 844.90 L846.00 844.90 L847.00 844.90 L848.00 844.90 L849.00 844.90 L850.00 844.90 L851.00 844.73 L852.00 844.30 L853.00 843.75 L854.00 843.20 L855.00 842.77 L856.00 842.60 L857.00 842.60 L858.00 842.60 L859.00 842.60 L860.00 842.60 L861.00 842.60 L862.00 842.60 L863.00 842.60 L864.00 842.60 L865.00 842.60 L866.00 842.60 L867.00 842.60 L868.00 842.60 L869.00 842.60 L870.00 842.60 L871.00 842.60 L872.00 842.60 L873.00 842.60 L874.00 842.60 L875.00 842.60 L876.00 842.60 L877.00 842.60 L878.00 842.60 L879.00 842.60 L880.00 842.60 L881.00 842.60 L882.00 842.60 L883.00 842.60 L884.00 842.60 L885.00 842.60 L886.00 842.60 L887.00 842.60 L888.00 842.60 L889.00 842.77 L890.00 843.20 L891.00 843.75 L892.00 844.30 L893.00 844.73 L894.00 844.90 L895.00 844.90 L896.00 844.90 L897.00 844.90 L898.00 844.90 L899.00 844.90 L900.00 844.90 L901.00 844.90 L902.00 844.90 L903.00 844.90 L904.00 844.90 L905.00 844.90 L906.00 844.90 L907.00 844.90 L908.00 844.90 L909.00 844.90 L910.00 844.90 L911.00 844.90 L912.00 844.90 L913.00 844.90 L914.00 844.90 L915.00 844.90 L916.00 844.90 L917.00 844.90 L918.00 844.90 L919.00 844.90 L920.00 844.90 L921.00 844.76 L922.00 844.41 L923.00 843.95 L924.00 843.49 L925.00 843.14 L926.00 843.00 L927.00 843.00 L928.00 843.00 L929.00 843.00 L930.00 843.00 L931.00 843.00 L932.00 843.00 L933.00 843.00 L934.00 843.00 L935.00 843.00 L936.00 843.00 L937.00 843.00 L938.00 843.00 L939.00 843.00 L940.00 843.00 L941.00 843.00 L942.00 843.00 L943.00 843.00 L944.00 843.00 L945.00 843.00 L946.00 843.00 L947.00 843.00 L948.00 843.00 L949.00 843.00 L950.00 843.00 L951.00 843.00 L952.00 843.00 L953.00 843.00 L954.00 843.00 L955.00 843.00 L956.00 843.00 L957.00 843.00 L958.00 843.00 L959.00 843.00 L960.00 843.00 L961.00 843.00 L962.00 843.00 L963.00 843.00 L964.00 843.00 L965.00 843.00 L966.00 843.00 L967.00 843.00 L968.00 843.00 L969.00 843.00 L970.00 843.00 L971.00 843.00 L972.00 843.00 L973.00 843.16 L974.00 843.57 L975.00 844.10 L976.00 844.64 L977.00 845.08 L978.00 845.30 L979.00 845.37 L980.00 845.43 L981.00 845.49 L982.00 845.54 L983.00 845.59 L984.00 845.64 L985.00 845.68 L986.00 845.72 L987.00 845.75 L988.00 845.79 L989.00 845.82 L990.00 845.84 L991.00 845.87 L992.00 845.89 L993.00 845.91 L994.00 845.92 L995.00 845.94 L996.00 845.95 L997.00 845.97 L998.00 845.98 L999.00 845.99 L1000.00 846.00 L1001.00 846.01 L1002.00 846.02 L1003.00 846.03 L1004.00 846.03 L1005.00 846.04 L1006.00 846.04 L1007.00 846.05 L1008.00 846.05 L1009.00 846.06 L1010.00 846.06 L1011.00 846.07 L1012.00 846.07 L1013.00 846.07 L1014.00 846.07 L1015.00 846.08 L1016.00 846.08 L1017.00 846.08 L1018.00 846.08 L1019.00 846.09 L1020.00 846.09 L1021.00 846.09 L1022.00 846.09 L1023.00 846.10 L1024.00 846.10 L1025.00 846.10 L1026.00 846.11 L1027.00 846.11 L1028.00 846.12 L1029.00 846.13 L1030.00 846.13 L1031.00 846.14 L1032.00 846.15 L1033.00 846.16 L1034.00 846.17 L1035.00 846.18 L1036.00 846.19 L1037.00 846.20 L1038.00 846.26 L1039.00 846.40 L1040.00 846.59 L1041.00 846.81 L1042.00 847.03 L1043.00 847.22 L1044.00 847.35 L1045.00 847.40 L1046.00 847.40 L1047.00 847.40 L1048.00 847.40 L1049.00 847.40 L1050.00 847.40 L1051.00 847.40 L1052.00 847.40 L1053.00 847.40 L1054.00 847.40 L1055.00 847.40 L1056.00 847.40 L1057.00 847.40 L1058.00 847.40 L1059.00 847.40 L1060.00 847.40 L1061.00 847.40 L1062.00 847.40 L1063.00 847.40 L1064.00 847.40 L1065.00 847.40 L1066.00 847.40 L1067.00 847.40 L1068.00 847.40 L1069.00 847.40 L1070.00 847.40 L1071.00 847.40 L1072.00 847.40 L1073.00 847.40 L1074.00 847.40 L1075.00 847.40 L1076.00 847.40 L1077.00 847.40 L1078.00 847.40 L1079.00 847.40 L1080.00 847.40 L1081.00 847.40 L1082.00 847.40 L1083.00 847.40 L1084.00 847.40 L1085.00 847.40 L1086.00 847.40 L1087.00 847.40 L1088.00 847.40 L1089.00 847.40 L1090.00 847.40 L1091.00 847.40 L1092.00 847.40 L1093.00 847.40 L1094.00 847.40 L1095.00 847.40 L1096.00 847.40 L1097.00 847.40 L1098.00 847.40 L1099.00 847.40 L1100.00 847.40 L1101.00 847.40 L1102.00 847.40 L1103.00 847.40 L1104.00 847.40 L1105.00 847.40 L1106.00 847.40 L1107.00 847.40 L1108.00 847.40 L1109.00 847.40 L1110.00 847.40 L1111.00 847.40 L1112.00 847.40 L1113.00 847.40 L1114.00 847.40 L1115.00 847.40 L1116.00 847.40 L1117.00 847.40 L1118.00 847.40 L1119.00 847.40 L1120.00 847.40 L1121.00 847.40 L1122.00 847.40 L1123.00 847.40 L1124.00 847.40 L1125.00 847.40 L1126.00 847.40 L1127.00 847.40 L1128.00 847.40 L1129.00 847.40 L1130.00 847.40 L1131.00 847.40 L1132.00 847.40 L1133.00 847.40 L1134.00 847.40 L1135.00 847.40 L1136.00 847.40 L1137.00 847.40 L1138.00 847.40 L1139.00 847.40 L1140.00 847.40 L1141.00 847.40 L1142.00 847.40 L1143.00 847.40 L1144.00 847.40 L1145.00 847.40 L1146.00 847.40 L1147.00 847.40 L1148.00 847.40 L1149.00 847.40 L1150.00 847.40 L1151.00 847.26 L1152.00 846.91 L1153.00 846.45 L1154.00 845.99 L1155.00 845.64 L1156.00 845.50 L1157.00 845.50 L1158.00 845.50 L1159.00 845.50 L1160.00 845.50 L1161.00 845.50 L1162.00 845.50 L1163.00 845.50 L1164.00 845.50 L1165.00 845.50 L1166.00 845.50 L1167.00 845.50 L1168.00 845.50 L1169.00 845.50 L1170.00 845.50 L1171.00 845.50 L1172.00 845.54 L1173.00 845.64 L1174.00 845.81 L1175.00 846.04 L1176.00 846.30 L1177.00 846.61 L1178.00 846.94 L1179.00 847.30 L1180.00 847.66 L1181.00 848.03 L1182.00 848.40 L1183.00 848.75 L1184.00 849.09 L1185.00 849.39 L1186.00 849.66 L1187.00 849.88 L1188.00 850.05 L1189.00 850.16 L1190.00 850.20 L1191.00 850.20 L1192.00 850.20 L1193.00 850.20 L1194.00 850.21 L1195.00 850.21 L1196.00 850.21 L1197.00 850.21 L1198.00 850.21 L1199.00 850.21 L1200.00 850.21 L1201.00 850.22 L1202.00 850.22 L1203.00 850.22 L1204.00 850.22 L1205.00 850.22 L1206.00 850.22 L1207.00 850.22 L1208.00 850.22 L1209.00 850.23 L1210.00 850.23 L1211.00 850.23 L1212.00 850.23 L1213.00 850.23 L1214.00 850.23 L1215.00 850.23 L1216.00 850.23 L1217.00 850.24 L1218.00 850.24 L1219.00 850.24 L1220.00 850.24 L1221.00 850.24 L1222.00 850.24 L1223.00 850.24 L1224.00 850.24 L1225.00 850.24 L1226.00 850.24 L1227.00 850.25 L1228.00 850.25 L1229.00 850.25 L1230.00 850.25 L1231.00 850.25 L1232.00 850.25 L1233.00 850.25 L1234.00 850.25 L1235.00 850.25 L1236.00 850.25 L1237.00 850.26 L1238.00 850.26 L1239.00 850.26 L1240.00 850.26 L1241.00 850.26 L1242.00 850.26 L1243.00 850.26 L1244.00 850.26 L1245.00 850.26 L1246.00 850.26 L1247.00 850.26 L1248.00 850.26 L1249.00 850.27 L1250.00 850.27 L1251.00 850.27 L1252.00 850.27 L1253.00 850.27 L1254.00 850.27 L1255.00 850.27 L1256.00 850.27 L1257.00 850.27 L1258.00 850.27 L1259.00 850.27 L1260.00 850.27 L1261.00 850.27 L1262.00 850.27 L1263.00 850.27 L1264.00 850.28 L1265.00 850.28 L1266.00 850.28 L1267.00 850.28 L1268.00 850.28 L1269.00 850.28 L1270.00 850.28 L1271.00 850.28 L1272.00 850.28 L1273.00 850.28 L1274.00 850.28 L1275.00 850.28 L1276.00 850.28 L1277.00 850.28 L1278.00 850.28 L1279.00 850.28 L1280.00 850.28 L1281.00 850.28 L1282.00 850.28 L1283.00 850.29 L1284.00 850.29 L1285.00 850.29 L1286.00 850.29 L1287.00 850.29 L1288.00 850.29 L1289.00 850.29 L1290.00 850.29 L1291.00 850.29 L1292.00 850.29 L1293.00 850.29 L1294.00 850.29 L1295.00 850.29 L1296.00 850.29 L1297.00 850.29 L1298.00 850.29 L1299.00 850.29 L1300.00 850.29 L1301.00 850.29 L1302.00 850.29 L1303.00 850.29 L1304.00 850.29 L1305.00 850.29 L1306.00 850.29 L1307.00 850.29 L1308.00 850.29 L1309.00 850.29 L1310.00 850.29 L1311.00 850.29 L1312.00 850.29 L1313.00 850.29 L1314.00 850.29 L1315.00 850.30 L1316.00 850.30 L1317.00 850.30 L1318.00 850.30 L1319.00 850.30 L1320.00 850.30 L1321.00 850.30 L1322.00 850.30 L1323.00 850.30 L1324.00 850.30 L1325.00 850.30 L1326.00 850.30 L1327.00 850.30 L1328.00 850.30 L1329.00 850.30 L1330.00 850.30 L1331.00 850.30 L1332.00 850.30 L1333.00 850.30 L1334.00 850.30 L1335.00 850.30 L1336.00 850.30 L1337.00 850.30 L1338.00 850.30 L1339.00 850.30 L1340.00 850.30 L1341.00 850.30 L1342.00 850.30 L1343.00 850.30 L1344.00 850.30 L1345.00 850.30 L1346.00 850.30 L1347.00 850.30 L1348.00 850.30 L1349.00 850.30 L1350.00 850.30 L1351.00 850.30 L1352.00 850.30 L1353.00 850.30 L1354.00 850.30 L1355.00 850.30 L1356.00 850.30 L1357.00 850.30 L1358.00 850.30 L1359.00 850.30 L1360.00 850.30 L1361.00 850.30 L1362.00 850.30 L1363.00 850.30 L1364.00 850.30 L1365.00 850.30 L1366.00 850.30 L1367.00 850.30 L1368.00 850.30 L1369.00 850.30 L1370.00 850.30 L1371.00 850.30 L1372.00 850.30 L1373.00 850.21 L1374.00 849.97 L1375.00 849.64 L1376.00 849.25 L1377.00 848.86 L1378.00 848.53 L1379.00 848.29 L1380.00 848.20 L1381.00 848.20 L1382.00 848.20 L1383.00 848.20 L1384.00 848.20 L1385.00 848.20 L1386.00 848.20 L1387.00 848.20 L1388.00 848.20 L1389.00 848.20 L1390.00 848.20 L1391.00 848.20 L1392.00 848.20 L1393.00 848.20 L1394.00 848.20 L1395.00 848.20 L1396.00 848.20 L1397.00 848.20 L1398.00 848.20 L1399.00 848.20 L1400.00 848.20 L1401.00 848.20 L1402.00 848.20 L1403.00 848.20 L1404.00 848.20 L1405.00 848.20 L1406.00 848.19 L1407.00 848.19 L1408.00 848.19 L1409.00 848.19 L1410.00 848.19 L1411.00 848.19 L1412.00 848.18 L1413.00 848.18 L1414.00 848.17 L1415.00 848.17 L1416.00 848.16 L1417.00 848.16 L1418.00 848.15 L1419.00 848.14 L1420.00 848.12 L1421.00 848.11 L1422.00 848.09 L1423.00 848.07 L1424.00 848.05 L1425.00 848.02 L1426.00 847.98 L1427.00 847.95 L1428.00 847.90 L1429.00 847.85 L1430.00 847.79 L1431.00 847.71 L1432.00 847.63 L1433.00 847.54 L1434.00 847.43 L1435.00 847.30 L1436.00 847.15 L1437.00 846.98 L1438.00 846.79 L1439.00 846.57 L1440.00 846.32 L1441.00 846.03 L1442.00 845.71 L1443.00 845.34 L1444.00 844.92 L1445.00 844.44 L1446.00 843.90 L1447.00 843.30 L1448.00 842.62 L1449.00 841.86 L1450.00 841.00 L1451.00 840.04 L1452.00 838.98 L1453.00 837.79 L1454.00 836.47 L1455.00 835.01 L1456.00 833.39 L1457.00 831.60 L1458.00 829.63 L1459.00 827.45 L1460.00 825.07 L1461.00 822.45 L1462.00 819.60 L1463.00 816.47 L1464.00 813.07 L1465.00 809.37 L1466.00 805.36 L1467.00 801.01 L1468.00 796.31 L1469.00 791.25 L1470.00 785.79 L1471.00 779.94 L1472.00 773.66 L1473.00 766.95 L1474.00 759.79 L1475.00 752.16 L1476.00 744.05 L1477.00 735.46 L1478.00 726.37 L1479.00 716.77 L1480.00 706.67 L1481.00 696.05 L1482.00 684.91 L1483.00 673.27 L1484.00 661.12 L1485.00 648.47 L1486.00 635.34 L1487.00 621.74 L1488.00 607.68 L1489.00 593.20 L1490.00 578.31 L1491.00 563.05 L1492.00 547.45 L1493.00 531.54 L1494.00 515.37 L1495.00 498.98 L1496.00 482.42 L1497.00 465.73 L1498.00 448.98 L1499.00 432.22 L1500.00 415.50 L1501.00 398.90 L1502.00 382.46 L1503.00 366.26 L1504.00 350.36 L1505.00 334.83 L1506.00 319.73 L1507.00 305.13 L1508.00 291.09 L1509.00 277.68 L1510.00 264.96 L1511.00 252.99 L1512.00 241.83 L1513.00 231.53 L1514.00 222.14 L1515.00 213.71 L1516.00 206.28 L1517.00 199.89 L1518.00 194.57 L1519.00 190.35 L1520.00 187.25 L1521.00 185.29 L1522.00 184.47 L1523.00 184.79 L1524.00 186.22 L1525.00 188.76 L1526.00 192.38 L1527.00 197.09 L1528.00 202.84 L1529.00 209.61 L1530.00 217.37 L1531.00 226.07 L1532.00 235.69 L1533.00 246.17 L1534.00 257.46 L1535.00 269.51 L1536.00 282.26 L1537.00 295.65 L1538.00 309.64 L1539.00 324.14 L1540.00 339.11 L1541.00 354.48 L1542.00 370.19 L1543.00 386.16 L1544.00 402.35 L1545.00 418.70 L1546.00 435.13 L1547.00 451.60 L1548.00 468.04 L1549.00 484.41 L1550.00 500.66 L1551.00 516.73 L1552.00 532.58 L1553.00 548.18 L1554.00 563.47 L1555.00 578.44 L1556.00 593.04 L1557.00 607.25 L1558.00 621.05 L1559.00 634.40 L1560.00 647.30 L1561.00 659.74 L1562.00 671.69 L1563.00 683.15 L1564.00 694.12 L1565.00 704.60 L1566.00 714.58 L1567.00 724.06 L1568.00 733.05 L1569.00 741.57 L1570.00 749.61 L1571.00 757.18 L1572.00 764.30 L1573.00 770.99 L1574.00 777.25 L1575.00 783.09 L1576.00 788.55 L1577.00 793.62 L1578.00 798.34 L1579.00 802.71 L1580.00 806.75 L1581.00 810.48 L1582.00 813.92 L1583.00 817.08 L1584.00 819.98 L1585.00 822.64 L1586.00 825.07 L1587.00 827.28 L1588.00 829.30 L1589.00 831.14 L1590.00 832.80 L1591.00 834.30 L1592.00 835.66 L1593.00 836.89 L1594.00 837.99 L1595.00 838.98 L1596.00 839.87 L1597.00 840.66 L1598.00 841.37 L1599.00 842.00 L1600.00 842.56 L1601.00 843.06 L1602.00 843.50 L1603.00 843.89 L1604.00 844.23 L1605.00 844.53 L1606.00 844.79 L1607.00 845.02 L1608.00 845.22 L1609.00 845.40 L1610.00 845.55 L1611.00 845.68 L1612.00 845.80 L1613.00 845.90 L1614.00 845.98 L1615.00 846.05 L1616.00 846.11 L1617.00 846.16 L1618.00 846.19 L1619.00 846.22 L1620.00 846.24 L1621.00 846.24 L1622.00 846.25 L1623.00 846.20 L1624.00 846.08 L1625.00 845.88 L1626.00 845.63 L1627.00 845.33 L1628.00 844.80 L1629.00 843.90 L1630.00 842.77 L1631.00 841.53 L1632.00 840.28 L1633.00 839.15 L1634.00 838.03 L1635.00 836.87 L1636.00 835.69 L1637.00 834.49 L1638.00 833.28 L1639.00 832.07 L1640.00 830.87 L1641.00 829.69 L1642.00 828.53 L1643.00 827.42 L1644.00 826.33 L1645.00 825.26 L1646.00 824.20 L1647.00 823.16 L1648.00 822.13 L1649.00 821.11 L1650.00 820.11 L1651.00 819.12 L1652.00 818.14 L1653.00 817.17 L1654.00 816.21 L1655.00 815.24 L1656.00 814.25 L1657.00 813.28 L1658.00 812.33 L1659.00 811.44 L1660.00 810.61 L1661.00 809.87 L1662.00 809.19 L1663.00 808.55 L1664.00 808.00 L1665.00 807.60 L1666.00 807.30 L1667.00 807.07 L1668.00 807.00 L1669.00 807.15 L1670.00 807.44 L1671.00 807.80 L1672.00 808.39 L1673.00 809.17 L1674.00 810.07 L1675.00 811.00 L1676.00 811.99 L1677.00 813.10 L1678.00 814.30 L1679.00 815.59 L1680.00 816.95 L1681.00 818.35 L1682.00 819.77 L1683.00 821.21 L1684.00 822.64 L1685.00 824.04 L1686.00 825.40 L1687.00 826.74 L1688.00 828.08 L1689.00 829.43 L1690.00 830.79 L1691.00 832.15 L1692.00 833.51 L1693.00 834.87 L1694.00 836.22 L1695.00 837.56 L1696.00 838.90 L1697.00 840.23 L1698.00 841.58 L1699.00 842.92 L1700.00 844.25 L1701.00 845.57 L1702.00 846.87 L1703.00 848.15 L1704.00 849.40 L1705.00 850.64 L1706.00 851.88 L1707.00 853.09 L1708.00 854.27 L1709.00 855.38 L1710.00 856.40 L1711.00 857.37 L1712.00 858.32 L1713.00 859.20 L1714.00 859.97 L1715.00 860.60 L1716.00 861.15 L1717.00 861.68 L1718.00 862.11 L1719.00 862.36 L1720.00 862.40 L1721.00 862.37 L1722.00 862.33 L1723.00 862.27 L1724.00 862.20 L1725.00 862.10 L1726.00 861.93 L1727.00 861.71 L1728.00 861.45 L1729.00 861.17 L1730.00 860.87 L1731.00 860.57 L1732.00 860.28 L1733.00 860.00 L1734.00 859.73 L1735.00 859.46 L1736.00 859.18 L1737.00 858.89 L1738.00 858.60 L1739.00 858.30 L1740.00 858.01 L1741.00 857.72 L1742.00 857.43 L1743.00 857.14 L1744.00 856.87 L1745.00 856.60 L1746.00 856.34 L1747.00 856.07 L1748.00 855.80 L1749.00 855.53 L1750.00 855.27 L1751.00 855.02 L1752.00 854.77 L1753.00 854.53 L1754.00 854.31 L1755.00 854.09 L1756.00 853.90 L1757.00 853.71 L1758.00 853.53 L1759.00 853.35 L1760.00 853.18 L1761.00 853.01 L1762.00 852.86 L1763.00 852.72 L1764.00 852.60 L1765.00 852.49 L1766.00 852.40 L1767.00 852.32 L1768.00 852.25 L1769.00 852.18 L1770.00 852.11 L1771.00 852.04 L1772.00 851.98 L1773.00 851.92 L1774.00 851.87 L1775.00 851.82 L1776.00 851.78 L1777.00 851.75 L1778.00 851.72 L1779.00 851.71 L1780.00 851.70 L1781.00 851.70 L1782.00 851.69 L1783.00 851.69 L1784.00 851.69 L1785.00 851.69 L1786.00 851.68 L1787.00 851.68 L1788.00 851.68 L1789.00 851.68 L1790.00 851.67 L1791.00 851.67 L1792.00 851.67 L1793.00 851.67 L1794.00 851.67 L1795.00 851.66 L1796.00 851.66 L1797.00 851.66 L1798.00 851.66 L1799.00 851.65 L1800.00 851.65 L1801.00 851.65 L1802.00 851.65 L1803.00 851.65 L1804.00 851.65 L1805.00 851.64 L1806.00 851.64 L1807.00 851.64 L1808.00 851.64 L1809.00 851.64 L1810.00 851.64 L1811.00 851.63 L1812.00 851.63 L1813.00 851.63 L1814.00 851.63 L1815.00 851.63 L1816.00 851.63 L1817.00 851.63 L1818.00 851.63 L1819.00 851.62 L1820.00 851.62 L1821.00 851.62 L1822.00 851.62 L1823.00 851.62 L1824.00 851.62 L1825.00 851.62 L1826.00 851.62 L1827.00 851.62 L1828.00 851.62 L1829.00 851.61 L1830.00 851.61 L1831.00 851.61 L1832.00 851.61 L1833.00 851.61 L1834.00 851.61 L1835.00 851.61 L1836.00 851.61 L1837.00 851.61 L1838.00 851.61 L1839.00 851.61 L1840.00 851.61 L1841.00 851.61 L1842.00 851.61 L1843.00 851.61 L1844.00 851.61 L1845.00 851.60 L1846.00 851.60 L1847.00 851.60 L1848.00 851.60 L1849.00 851.60 L1850.00 851.60 L1851.00 851.60 L1852.00 851.60 L1853.00 851.60 L1854.00 851.60 L1855.00 851.60 L1856.00 851.60 L1857.00 851.60 L1858.00 851.60 L1859.00 851.60 L1860.00 851.60 L1861.00 851.60 L1862.00 851.60 L1863.00 851.60 L1864.00 851.60 L1865.00 851.60 L1866.00 851.60 L1867.00 851.60 L1868.00 851.60"/>
</g></g>
<g id="axes" fill="none" stroke="#000">
<rect x="276.1" y="53.4" width="1588.0500000000002" height="1061.6499999999999" stroke-width="10.9"/>
<line x1="245.7" y1="53.4" x2="272" y2="53.4" stroke-width="10.8"/>
<line x1="245.7" y1="230.6" x2="272" y2="230.6" stroke-width="10.2"/>
<line x1="245.7" y1="406.9" x2="272" y2="406.9" stroke-width="8.6"/>
<line x1="245.7" y1="582.7" x2="272" y2="582.7" stroke-width="10.6"/>
<line x1="245.7" y1="760.3" x2="272" y2="760.3" stroke-width="10.6"/>
<line x1="245.7" y1="938.2" x2="272" y2="938.2" stroke-width="10.6"/>
<line x1="245.7" y1="1115.05" x2="272" y2="1115.05" stroke-width="10.9"/>
<line x1="276.1" y1="1118" x2="276.1" y2="1144.7" stroke-width="10.6"/>
<line x1="636.4" y1="1118" x2="636.4" y2="1144.7" stroke-width="10.6"/>
<line x1="996.8" y1="1118" x2="996.8" y2="1144.7" stroke-width="10.6"/>
<line x1="1359.4" y1="1118" x2="1359.4" y2="1144.7" stroke-width="10.6"/>
<line x1="1719.5" y1="1118" x2="1719.5" y2="1144.7" stroke-width="10.6"/>
</g>
<g id="ylabels" font-family="'Liberation Sans', Arial, sans-serif" font-weight="bold" fill="#000">
<text transform="translate(192.0 79.3) scale(1 1.04)" font-size="72">6</text>
<text transform="translate(191.6 256.9) scale(1 1.04)" font-size="72">5</text>
<text transform="translate(171.0 432.7) scale(1 1.04)" font-size="72">4</text>
<text transform="translate(172.0 609.6) scale(1 1.04)" font-size="72">3</text>
<text transform="translate(193.0 788.0) scale(1 1.04)" font-size="72">2</text>
<text transform="translate(192.4 1139.2) scale(1 1.04)" font-size="72">0</text>
<g clip-path="url(#c1y)"><text transform="translate(193.4 964.0) scale(1 1.04)" font-size="72" stroke="#000" stroke-width="3" stroke-linejoin="miter">1</text></g>
</g>
<g id="xlabels" font-family="'Liberation Sans', Arial, sans-serif" font-weight="bold" fill="#000">
<g clip-path="url(#c1x)"><text transform="translate(234.8 1224.4) scale(1 1.04)" font-size="72"><tspan stroke="#000" stroke-width="0.8">1</tspan>5</text></g>
<text transform="translate(595.5 1224.4) scale(1 1.04)" font-size="72">20</text>
<text transform="translate(957.2 1224.4) scale(1 1.04)" font-size="72">25</text>
<text transform="translate(1317.2 1224.4) scale(1 1.04)" font-size="72">30</text>
<text transform="translate(1679.4 1224.4) scale(1 1.04)" font-size="72">35</text>
</g>
<g id="titles" font-family="'Liberation Sans', Arial, sans-serif" font-weight="bold" fill="#000">
<text transform="translate(0 1318.9) scale(1 1.04)" font-size="86" xml:space="preserve"><tspan x="651.6" letter-spacing="0.81">Retention </tspan><tspan x="1081.2" letter-spacing="-1.05">time </tspan><tspan x="1279.7" letter-spacing="1.52">(min)</tspan></text>
<text transform="translate(106.8 0) rotate(-90) scale(1 1.04)" font-size="88" xml:space="preserve"><tspan x="-943.7" letter-spacing="-0.48">Relative </tspan><tspan x="-589.4" letter-spacing="-0.48">intensity</tspan></text>
</g>
<g id="annot" font-family="'Liberation Sans', Arial, sans-serif" fill="#0a0a0a">
<g clip-path="url(#c1m)"><text transform="translate(743.2 806.6) scale(1 1.04)" font-size="65.5">M<tspan dx="6.9">1</tspan></text></g>
<text transform="translate(0 826.2) scale(1 1.04)" font-size="61" xml:space="preserve"><tspan x="977.2" letter-spacing="-3.3">(+) </tspan><tspan x="1059.5" letter-spacing="-4.3">NADPH </tspan><tspan x="1264.0" letter-spacing="0">+ </tspan><tspan x="1309.0" letter-spacing="-4.0">HLM</tspan></text>
<text transform="translate(0 928.8) scale(1 1.04)" font-size="61" xml:space="preserve"><tspan x="973.3" letter-spacing="-3.3">(+) </tspan><tspan x="1059.0" letter-spacing="-3.7">NADPH </tspan><tspan x="1271.8" letter-spacing="0">+ </tspan><tspan x="1317.3" letter-spacing="-4.15">3A4</tspan></text>
<text transform="translate(0 1013.6) scale(1 1.04)" font-size="61" xml:space="preserve"><tspan x="978.6" letter-spacing="-1.7">(-) </tspan><tspan x="1048.5" letter-spacing="-3.7">NADPH</tspan></text>
<text transform="translate(1441.8 0) rotate(-90) scale(1 1.04)" font-size="66" xml:space="preserve"><tspan x="-722.5" letter-spacing="2.19">Oleanolic </tspan><tspan x="-408.1" letter-spacing="1.09">acid</tspan></text>
</g>
<g clip-path="url(#c1i)" font-family="'Liberation Sans', Arial, sans-serif" fill="#111" stroke="#111" stroke-width="0.5"><text transform="translate(585.903515625 181.6) scale(0.95 1.04)" font-size="50">M<tspan dx="5.67">1</tspan></text></g>
<defs><clipPath id="c1y"><rect x="0" y="0" width="1898" height="953.90"/><rect x="208.65" y="952.90" width="12.98" height="12.96"/></clipPath><clipPath id="c1x"><rect x="0" y="0" width="1898" height="1215.44"/><rect x="251.15" y="1214.44" width="10.78" height="10.67"/><rect x="275.84" y="0" width="1898" height="1371"/></clipPath><clipPath id="c1m"><rect x="0" y="0" width="1898" height="800.61"/><rect x="821.08" y="799.61" width="5.89" height="7.29"/><rect x="0" y="0" width="803.66" height="1371"/></clipPath><clipPath id="c1i"><rect x="0" y="0" width="1898" height="176.56"/><rect x="642.51" y="175.56" width="4.77" height="6.60"/><rect x="0" y="0" width="629.86" height="1371"/></clipPath></defs>
</svg>
</body>
</html>
